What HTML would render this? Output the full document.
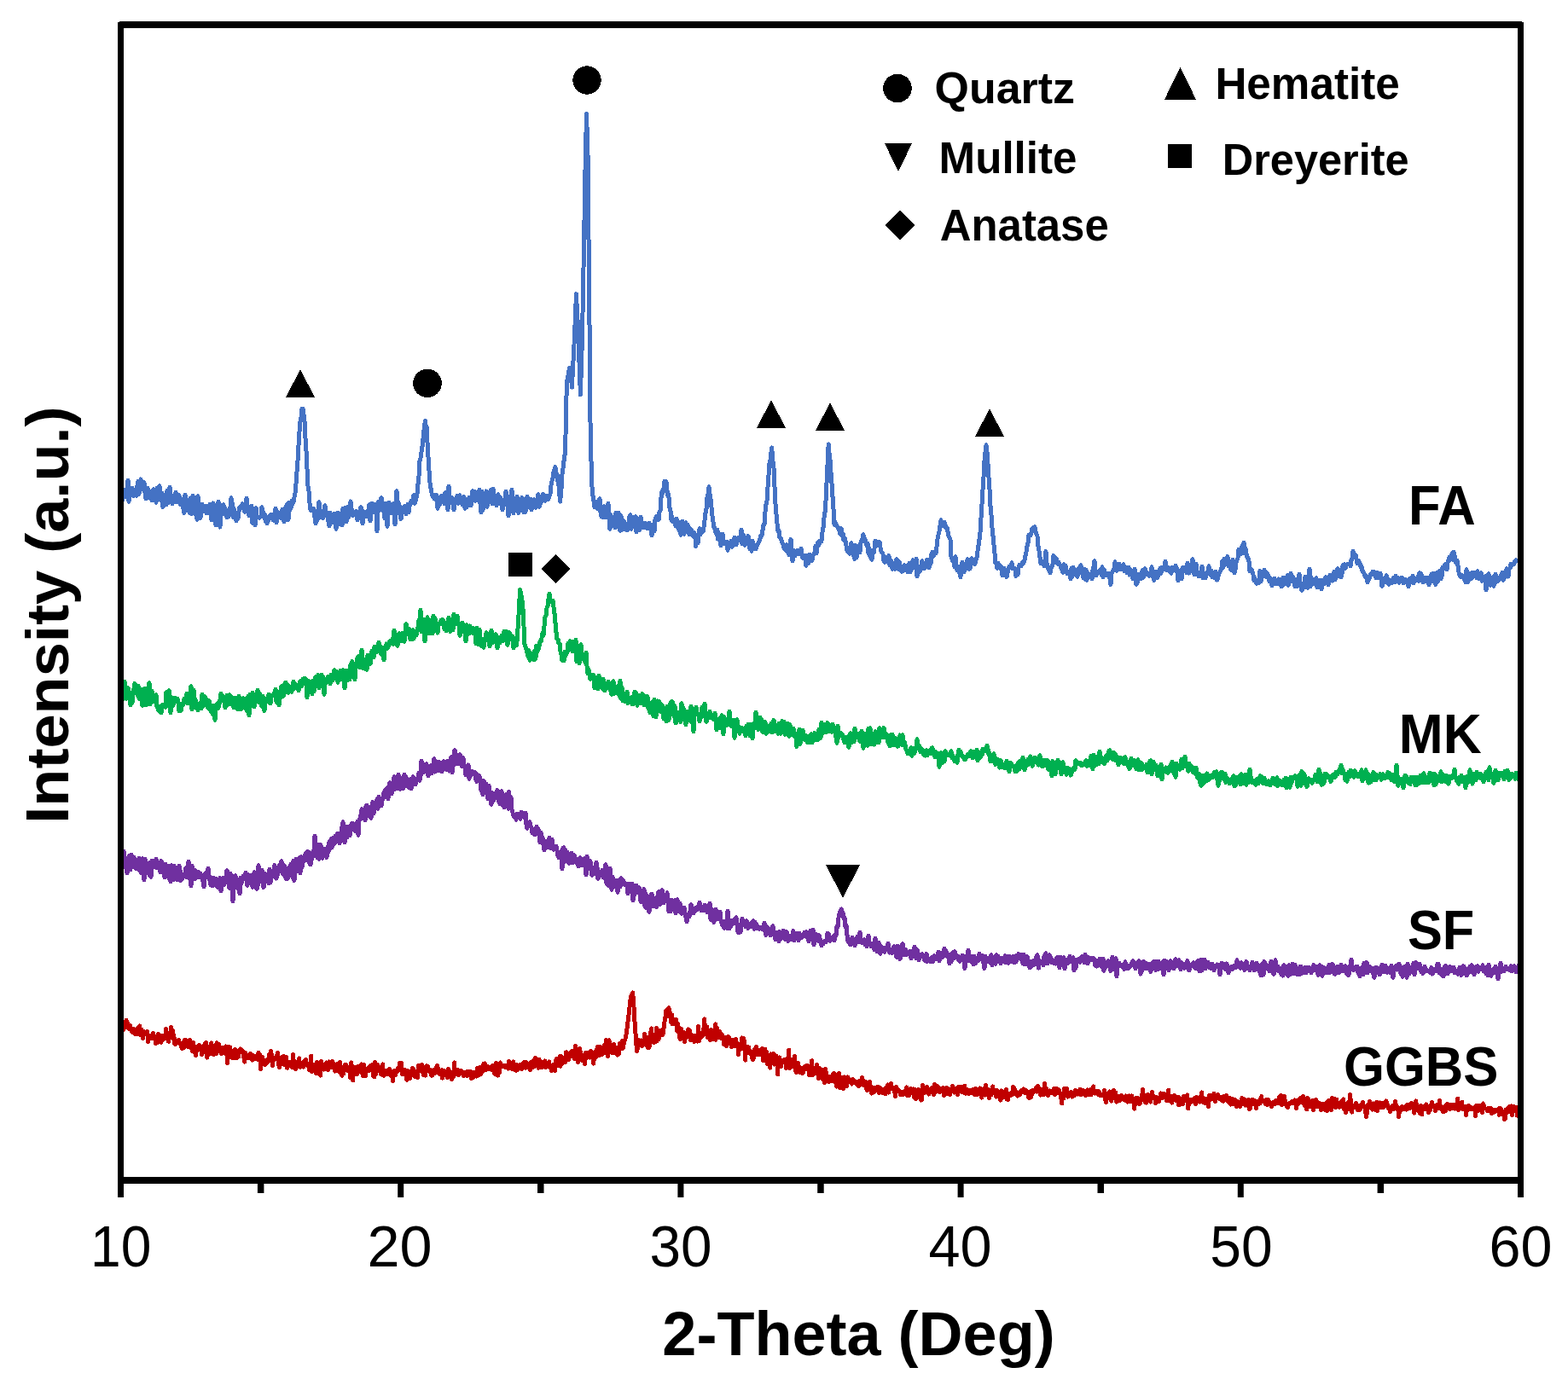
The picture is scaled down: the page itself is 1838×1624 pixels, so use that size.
<!DOCTYPE html>
<html><head><meta charset="utf-8"><title>XRD patterns</title>
<style>html,body{margin:0;padding:0;background:#fff;width:1838px;height:1624px;overflow:hidden}svg{display:block}</style>
</head><body>
<svg width="1838" height="1624" viewBox="0 0 1838 1624">
<rect width="1838" height="1624" fill="#fff"/>
<g fill="none" stroke-width="5" stroke-linejoin="round" stroke-linecap="butt" shape-rendering="crispEdges">
<path stroke="#4472C4" d="M141.0 580.3L142.0 589.9L143.0 588.5L144.0 575.1L145.0 576.3L146.0 574.2L147.0 582.2L148.0 577.1L149.0 582.8L150.0 562.9L151.0 588.2L152.0 575.3L153.0 580.8L154.0 574.3L155.0 572.1L156.0 578.7L157.0 581.5L158.0 574.0L159.0 574.5L160.0 581.2L161.0 569.3L162.0 564.5L163.0 579.4L164.0 571.4L165.0 561.9L166.0 570.6L167.0 573.5L168.0 568.0L169.0 565.9L170.0 577.9L171.0 584.7L172.0 576.2L173.0 572.4L174.0 581.2L175.0 583.8L176.0 576.4L177.0 582.9L178.0 586.8L179.0 577.9L180.0 573.8L181.0 582.8L182.0 582.4L183.0 589.2L184.0 571.9L185.0 576.9L186.0 576.0L187.0 569.7L188.0 583.9L189.0 587.3L190.0 578.3L191.0 594.5L192.0 590.7L193.0 589.6L194.0 587.9L195.0 592.0L196.0 575.0L197.0 589.5L198.0 589.4L199.0 570.9L200.0 587.3L201.0 582.6L202.0 590.6L203.0 581.0L204.0 584.2L205.0 587.0L206.0 577.4L207.0 588.5L208.0 583.5L209.0 587.4L210.0 580.6L211.0 591.2L212.0 589.1L213.0 585.1L214.0 591.6L215.0 596.8L216.0 601.5L217.0 580.3L218.0 597.7L219.0 596.1L220.0 592.4L221.0 586.3L222.0 601.3L223.0 584.0L224.0 597.3L225.0 602.5L226.0 581.3L227.0 590.8L228.0 583.4L229.0 595.2L230.0 604.9L231.0 609.1L232.0 581.7L233.0 590.9L234.0 600.7L235.0 607.5L236.0 599.4L237.0 591.3L238.0 599.4L239.0 597.5L240.0 596.6L241.0 593.1L242.0 601.7L243.0 601.6L244.0 599.1L245.0 598.5L246.0 591.2L247.0 597.5L248.0 609.6L249.0 599.2L250.0 589.9L251.0 610.3L252.0 604.0L253.0 615.7L254.0 600.1L255.0 595.9L256.0 588.3L257.0 609.0L258.0 618.1L259.0 592.4L260.0 593.5L261.0 602.7L262.0 591.8L263.0 596.2L264.0 595.8L265.0 600.0L266.0 607.0L267.0 599.2L268.0 606.1L269.0 596.2L270.0 602.1L271.0 583.8L272.0 589.1L273.0 606.2L274.0 596.0L275.0 604.9L276.0 604.8L277.0 610.8L278.0 606.7L279.0 608.0L280.0 599.4L281.0 594.8L282.0 594.3L283.0 595.8L284.0 590.8L285.0 594.8L286.0 597.9L287.0 600.2L288.0 595.6L289.0 584.2L290.0 597.0L291.0 598.9L292.0 604.7L293.0 601.6L294.0 593.6L295.0 593.5L296.0 613.4L297.0 605.1L298.0 613.2L299.0 615.9L300.0 595.6L301.0 604.7L302.0 605.7L303.0 607.0L304.0 607.4L305.0 605.6L306.0 605.9L307.0 594.7L308.0 604.6L309.0 601.1L310.0 607.8L311.0 604.2L312.0 612.3L313.0 613.6L314.0 609.8L315.0 609.7L316.0 608.0L317.0 603.8L318.0 605.8L319.0 603.1L320.0 609.6L321.0 606.6L322.0 610.7L323.0 596.3L324.0 612.6L325.0 600.2L326.0 600.5L327.0 604.2L328.0 601.5L329.0 607.1L330.0 601.1L331.0 597.0L332.0 597.8L333.0 611.6L334.0 602.3L335.0 594.4L336.0 600.5L337.0 590.6L338.0 609.5L339.0 589.4L340.0 597.6L341.0 596.1L342.0 587.2L343.0 590.7L344.0 588.4L345.0 583.0L346.0 578.5L347.0 567.2L348.0 553.0L349.0 540.7L350.0 522.3L351.0 506.2L352.0 494.4L353.0 488.9L353.5 482.0L354.0 479.4L355.0 479.2L356.0 486.6L356.5 487.7L357.0 493.9L358.0 513.6L359.0 529.2L360.0 549.8L361.0 570.2L362.0 576.0L363.0 590.3L364.0 598.2L365.0 598.7L366.0 596.3L367.0 596.4L368.0 597.2L369.0 607.2L370.0 613.6L371.0 601.6L372.0 609.9L373.0 600.3L374.0 588.6L375.0 603.8L376.0 606.2L377.0 600.0L378.0 605.4L379.0 607.5L380.0 597.2L381.0 592.8L382.0 602.2L383.0 602.4L384.0 601.4L385.0 611.4L386.0 617.0L387.0 601.4L388.0 609.7L389.0 611.6L390.0 610.1L391.0 612.7L392.0 602.2L393.0 610.7L394.0 620.2L395.0 611.4L396.0 601.2L397.0 610.0L398.0 614.8L399.0 608.6L400.0 601.6L401.0 616.0L402.0 596.0L403.0 607.9L404.0 603.9L405.0 595.2L406.0 611.8L407.0 605.2L408.0 594.2L409.0 606.2L410.0 598.6L411.0 587.9L412.0 596.0L413.0 602.2L414.0 604.4L415.0 601.4L416.0 600.8L417.0 604.0L418.0 599.5L419.0 609.7L420.0 602.6L421.0 603.8L422.0 605.9L423.0 594.7L424.0 597.4L425.0 613.6L426.0 605.4L427.0 601.3L428.0 605.8L429.0 600.5L430.0 605.9L431.0 599.0L432.0 604.9L433.0 591.7L434.0 611.1L435.0 598.0L436.0 590.2L437.0 599.0L438.0 597.5L439.0 600.5L440.0 591.2L441.0 601.2L442.0 622.6L443.0 588.8L444.0 599.3L445.0 594.4L446.0 597.3L447.0 583.7L448.0 588.2L449.0 599.1L450.0 595.7L451.0 608.0L452.0 590.8L453.0 597.3L454.0 617.3L455.0 590.4L456.0 589.4L457.0 595.7L458.0 595.7L459.0 602.0L460.0 596.9L461.0 590.6L462.0 597.4L463.0 614.6L464.0 604.7L465.0 575.6L466.0 594.3L467.0 589.0L468.0 599.5L469.0 593.7L470.0 608.5L471.0 601.3L472.0 600.8L473.0 595.7L474.0 594.0L475.0 596.5L476.0 602.9L477.0 597.3L478.0 591.1L479.0 600.7L480.0 593.8L481.0 591.9L482.0 587.2L483.0 587.4L484.0 587.2L485.0 580.6L486.0 590.2L487.0 587.8L488.0 584.4L489.0 578.6L490.0 567.6L491.0 558.0L492.0 540.6L493.0 537.4L494.0 530.0L495.0 523.5L496.0 514.6L497.0 503.9L498.0 495.9L498.5 493.1L499.0 499.0L500.0 500.0L501.0 519.0L501.5 525.8L502.0 535.9L503.0 551.9L503.5 564.8L504.0 565.9L505.0 572.6L506.0 578.1L506.5 579.7L507.0 581.6L508.0 581.1L509.0 584.9L510.0 585.2L511.0 580.2L512.0 580.7L513.0 596.2L514.0 585.4L515.0 592.3L516.0 588.6L517.0 582.6L518.0 581.3L519.0 587.2L520.0 588.2L521.0 590.8L522.0 577.6L523.0 582.4L524.0 586.0L525.0 597.9L526.0 570.2L527.0 589.9L528.0 583.1L529.0 590.0L530.0 583.6L531.0 589.5L532.0 597.8L533.0 589.3L534.0 589.8L535.0 589.3L536.0 581.4L537.0 590.4L538.0 585.1L539.0 580.8L540.0 586.2L541.0 584.8L542.0 591.6L543.0 586.0L544.0 582.5L545.0 596.3L546.0 593.0L547.0 594.9L548.0 590.2L549.0 585.2L550.0 583.1L551.0 584.1L552.0 592.6L553.0 586.8L554.0 575.6L555.0 585.7L556.0 576.1L557.0 587.2L558.0 577.6L559.0 577.2L560.0 586.8L561.0 585.5L562.0 574.4L563.0 591.2L564.0 600.9L565.0 575.9L566.0 598.3L567.0 581.3L568.0 582.7L569.0 584.6L570.0 575.9L571.0 594.4L572.0 588.8L573.0 580.2L574.0 583.3L575.0 574.8L576.0 582.5L577.0 591.0L578.0 573.0L579.0 581.6L580.0 585.2L581.0 590.9L582.0 592.8L583.0 581.4L584.0 580.0L585.0 588.0L586.0 583.1L587.0 583.9L588.0 593.2L589.0 597.6L590.0 588.7L591.0 586.1L592.0 591.4L593.0 575.9L594.0 588.4L595.0 582.0L596.0 604.6L597.0 594.3L598.0 590.9L599.0 589.0L600.0 574.3L601.0 595.3L602.0 601.6L603.0 586.5L604.0 596.0L605.0 596.5L606.0 581.9L607.0 598.4L608.0 601.4L609.0 594.2L610.0 592.6L611.0 598.4L612.0 583.5L613.0 594.4L614.0 600.9L615.0 586.7L616.0 600.5L617.0 592.2L618.0 582.4L619.0 593.7L620.0 587.7L621.0 594.8L622.0 585.1L623.0 597.9L624.0 586.3L625.0 592.3L626.0 585.8L627.0 586.8L628.0 595.2L629.0 589.0L630.0 585.1L631.0 579.7L632.0 594.2L633.0 591.5L634.0 584.4L635.0 587.8L636.0 579.7L637.0 579.9L638.0 580.8L639.0 587.3L640.0 586.3L641.0 581.4L642.0 585.6L643.0 584.7L644.0 581.6L645.0 579.1L646.0 569.0L647.0 564.1L648.0 560.6L649.0 553.4L650.0 550.4L651.0 547.6L652.0 559.0L653.0 555.7L654.0 564.9L655.0 569.4L656.0 581.3L656.7 588.0L657.0 584.2L658.0 572.7L659.0 556.1L659.7 551.3L660.0 549.2L661.0 540.6L662.0 533.6L662.7 527.1L663.0 510.3L663.6 477.3L664.0 464.8L664.6 447.4L665.0 445.0L666.0 440.0L667.0 434.0L667.6 431.1L668.0 435.0L669.0 439.5L670.0 449.1L670.5 454.2L671.0 442.2L672.0 423.3L672.5 415.4L673.0 404.0L674.0 381.0L675.0 356.6L675.5 344.7L676.0 356.3L677.0 374.5L677.4 383.4L678.0 400.4L679.0 425.3L680.0 451.8L680.4 463.0L681.0 443.9L682.0 411.3L682.4 398.1L683.0 367.4L684.0 314.5L684.3 299.5L685.0 258.9L686.0 199.5L687.0 155.5L687.5 133.6L688.0 149.0L689.0 179.9L690.2 299.6L691.2 398.1L692.2 517.6L693.0 540.5L694.2 576.4L695.0 581.5L696.0 587.6L697.0 594.7L698.0 592.2L699.0 595.3L700.0 588.5L701.0 596.8L702.0 595.7L703.0 584.6L704.0 600.4L705.0 606.0L706.0 596.2L707.0 606.9L708.0 593.7L709.0 604.5L710.0 595.7L711.0 607.1L712.0 594.7L713.0 590.4L714.0 608.7L715.0 620.3L716.0 603.8L717.0 612.4L718.0 608.5L719.0 606.2L720.0 612.1L721.0 618.7L722.0 601.4L723.0 612.6L724.0 611.6L725.0 601.1L726.0 619.8L727.0 622.2L728.0 604.8L729.0 621.5L730.0 611.5L731.0 610.5L732.0 620.9L733.0 613.5L734.0 614.4L735.0 621.9L736.0 620.8L737.0 618.5L738.0 604.7L739.0 603.8L740.0 620.2L741.0 607.6L742.0 614.4L743.0 606.8L744.0 612.5L745.0 605.9L746.0 623.6L747.0 607.7L748.0 613.2L749.0 612.9L750.0 621.5L751.0 606.1L752.0 614.7L753.0 614.0L754.0 618.7L755.0 618.6L756.0 613.3L757.0 617.8L758.0 614.5L759.0 619.8L760.0 616.4L761.0 613.1L762.0 616.8L763.0 619.2L764.0 627.9L765.0 615.1L766.0 618.2L767.0 622.7L768.0 608.9L769.0 606.7L770.0 605.3L771.0 606.0L772.0 609.5L773.0 600.4L774.0 599.1L774.5 593.4L775.0 583.5L776.0 576.3L777.0 577.8L778.0 571.9L779.0 564.3L779.8 568.0L781.0 564.9L782.0 574.9L783.0 582.0L783.6 580.0L784.0 582.5L785.0 595.8L786.0 599.2L786.6 609.2L787.0 604.6L788.0 611.3L789.0 611.1L790.0 611.0L791.0 609.8L792.0 616.9L793.0 608.3L794.0 617.7L795.0 616.9L796.0 621.7L797.0 612.2L798.0 627.3L799.0 616.0L800.0 611.0L801.0 625.1L802.0 626.4L803.0 616.3L804.0 612.7L805.0 618.3L806.0 615.0L807.0 617.5L808.0 626.9L809.0 621.7L809.5 620.7L810.0 622.4L811.0 621.9L812.0 627.8L813.0 629.4L814.0 624.9L815.0 628.6L815.6 640.6L816.0 630.7L817.0 627.0L818.0 637.0L819.0 626.4L820.0 619.8L821.0 626.8L822.0 621.8L823.0 622.1L824.0 623.3L824.7 621.7L825.0 617.7L826.0 609.8L827.0 601.3L828.0 596.8L828.5 588.4L829.0 583.7L830.0 579.3L831.0 570.8L831.3 574.1L832.0 579.5L833.0 584.7L833.9 594.0L835.0 605.0L836.0 612.0L837.0 619.0L838.0 619.2L839.0 624.4L840.0 626.9L841.0 621.4L841.5 632.3L842.0 627.5L843.0 625.8L844.0 628.4L845.0 639.9L846.0 637.5L847.0 626.0L848.0 636.3L849.0 636.8L850.0 638.1L851.0 638.1L852.0 635.2L853.0 645.2L854.0 636.1L855.0 637.9L856.0 635.8L857.0 634.4L858.0 641.2L859.0 638.5L860.0 632.3L861.0 630.1L862.0 632.0L863.0 638.8L864.0 634.0L865.0 634.0L866.0 630.5L867.0 630.4L868.0 632.2L869.0 621.3L870.0 638.1L871.0 627.0L872.0 629.0L873.0 639.4L874.0 634.7L875.0 634.7L876.0 632.5L877.0 628.5L878.0 638.1L879.0 644.0L880.0 634.5L881.0 646.2L882.0 634.3L883.0 636.7L884.0 643.4L885.0 641.2L886.0 644.0L887.0 639.6L888.0 639.0L889.0 636.6L890.0 634.9L891.0 631.9L892.0 627.7L893.0 627.9L894.0 621.6L894.8 615.3L896.0 615.1L897.0 600.4L898.0 591.5L899.0 587.4L899.4 583.9L900.0 571.5L901.0 556.8L902.0 543.3L903.0 539.8L904.0 530.4L904.7 525.0L905.0 529.1L906.0 541.0L907.0 548.3L908.0 570.9L908.5 580.3L909.0 590.8L910.0 602.6L911.0 613.8L911.6 619.8L912.0 622.8L913.0 621.9L914.0 630.3L915.0 630.6L916.0 633.6L917.0 636.5L918.0 638.6L919.0 642.5L920.0 644.2L921.0 643.6L922.0 638.7L923.0 647.4L924.0 644.4L925.0 651.0L926.0 641.1L927.0 632.5L928.0 643.7L929.0 657.7L930.0 649.1L931.0 645.8L932.0 651.8L933.0 650.0L934.0 650.1L935.0 645.2L936.0 648.6L937.0 649.5L938.0 645.4L939.0 643.1L940.0 649.8L941.0 654.2L942.0 652.6L943.0 651.9L944.0 652.1L945.0 663.3L946.0 650.9L947.0 655.2L948.0 660.1L949.0 650.0L950.0 650.9L951.0 654.4L952.0 657.2L953.0 651.4L954.0 650.0L955.0 647.4L956.0 640.3L957.0 648.7L958.0 641.3L959.0 635.7L960.0 639.1L961.0 634.0L962.0 634.1L962.9 635.0L964.0 624.2L965.0 618.6L966.0 607.0L967.0 600.7L967.4 597.7L968.0 586.8L969.0 566.1L969.5 555.3L970.0 545.1L971.2 520.9L972.0 530.9L973.0 539.2L974.0 554.2L975.0 566.9L976.0 582.4L977.0 596.6L978.0 615.2L979.0 612.4L980.0 615.1L981.0 616.4L982.0 618.7L983.0 620.4L984.0 621.6L985.0 626.2L986.0 619.5L987.0 627.6L988.0 625.5L989.0 633.4L990.0 630.7L991.0 634.0L992.0 639.8L993.0 646.1L994.0 644.0L995.0 643.8L996.0 649.3L997.0 640.2L998.0 636.7L999.0 644.5L1000.0 646.0L1001.0 653.2L1002.0 655.5L1003.0 639.5L1004.0 653.9L1005.0 648.6L1006.0 644.0L1007.0 640.6L1008.0 647.6L1009.0 636.4L1010.0 632.9L1011.0 633.5L1012.0 626.7L1013.0 631.7L1014.0 632.4L1015.0 636.8L1016.0 639.7L1017.0 637.4L1018.0 648.6L1019.0 643.3L1020.0 652.5L1021.0 647.0L1022.0 656.3L1023.0 649.0L1024.0 648.5L1025.0 642.9L1026.0 634.4L1027.0 634.7L1028.0 635.3L1029.0 639.6L1030.0 635.2L1031.0 635.5L1032.0 641.9L1033.0 646.8L1034.0 647.7L1035.0 649.6L1036.0 658.2L1037.0 659.1L1038.0 658.9L1039.0 653.3L1040.0 657.6L1041.0 656.9L1042.0 651.6L1043.0 663.1L1044.0 659.9L1045.0 657.7L1046.0 667.2L1047.0 664.7L1048.0 665.3L1049.0 667.2L1050.0 665.1L1051.0 655.7L1052.0 660.1L1053.0 667.3L1054.0 658.6L1055.0 662.9L1056.0 664.9L1057.0 670.3L1058.0 669.8L1059.0 668.0L1060.0 662.7L1061.0 668.4L1062.0 666.7L1063.0 663.3L1064.0 671.0L1065.0 666.7L1066.0 660.5L1067.0 670.8L1068.0 663.2L1069.0 667.6L1070.0 656.8L1071.0 664.6L1072.0 659.9L1073.0 659.8L1074.0 655.3L1075.0 675.6L1076.0 664.2L1077.0 666.2L1078.0 670.4L1079.0 664.1L1080.0 667.1L1081.0 657.6L1082.0 665.2L1083.0 662.0L1084.0 666.4L1085.0 664.5L1086.0 658.1L1087.0 656.1L1088.0 659.2L1089.0 665.9L1090.0 662.8L1091.0 660.9L1092.0 649.5L1093.0 647.3L1094.0 652.1L1095.0 650.9L1096.0 648.4L1097.0 648.9L1098.0 641.3L1099.0 632.4L1100.0 626.8L1101.0 623.0L1102.0 616.5L1103.0 609.8L1104.0 617.0L1105.0 612.0L1106.0 614.3L1107.0 612.3L1108.0 615.7L1109.0 619.2L1110.0 620.6L1110.6 619.6L1111.0 623.5L1112.0 628.9L1113.0 630.2L1114.0 633.0L1115.0 653.2L1116.0 655.7L1116.7 657.9L1117.0 654.1L1118.0 656.6L1119.0 664.5L1120.0 652.8L1121.0 662.5L1122.0 668.9L1123.0 667.2L1124.0 671.1L1125.0 666.8L1126.0 676.6L1127.0 661.7L1128.0 659.1L1129.0 665.9L1130.0 670.6L1131.0 663.1L1132.0 667.5L1133.0 659.6L1134.0 655.9L1135.0 667.1L1136.0 667.2L1137.0 667.0L1138.0 658.0L1139.0 654.7L1140.0 656.2L1141.0 659.5L1142.0 661.4L1143.0 661.2L1144.0 656.6L1145.0 653.5L1146.0 646.4L1147.0 639.7L1148.0 632.7L1148.7 627.7L1149.0 624.0L1150.0 607.3L1151.0 591.4L1152.0 574.1L1152.5 567.5L1153.0 558.8L1154.0 540.1L1154.5 535.7L1155.0 529.8L1156.0 521.7L1157.0 530.0L1157.5 534.9L1158.0 543.7L1159.0 560.2L1159.4 566.4L1160.0 573.6L1161.0 593.5L1162.0 603.9L1162.4 611.5L1163.0 618.9L1164.0 628.6L1165.0 638.8L1166.0 649.2L1167.0 660.4L1168.0 659.9L1169.0 666.2L1170.0 660.1L1171.0 663.9L1172.0 663.2L1173.0 663.7L1174.0 668.5L1175.0 674.7L1176.0 667.1L1177.0 666.4L1178.0 671.8L1179.0 670.4L1180.0 676.5L1181.0 671.6L1182.0 667.3L1183.0 664.1L1184.0 666.0L1185.0 664.8L1186.0 659.9L1187.0 666.7L1188.0 666.4L1189.0 666.7L1190.0 666.7L1191.0 675.5L1192.0 672.2L1193.0 673.7L1194.0 665.9L1195.0 662.5L1196.0 663.6L1197.0 663.8L1198.0 660.1L1199.0 658.9L1200.0 660.0L1201.0 656.5L1202.0 651.5L1203.0 646.9L1204.0 640.3L1205.0 636.5L1206.0 627.1L1207.0 627.6L1208.0 627.9L1209.0 624.3L1210.0 619.8L1211.0 618.7L1212.0 618.8L1213.0 617.7L1214.0 623.5L1215.0 626.4L1216.0 628.9L1216.8 639.2L1218.0 645.7L1219.0 653.4L1220.0 660.7L1221.0 657.9L1222.0 659.7L1223.0 661.2L1224.0 664.0L1225.0 661.3L1226.0 646.5L1227.0 660.4L1228.0 663.1L1229.0 667.4L1230.0 665.1L1231.0 671.7L1232.0 666.1L1233.0 664.8L1234.0 661.8L1235.0 651.5L1236.0 659.4L1237.0 657.4L1238.0 654.5L1239.0 660.4L1240.0 661.3L1241.0 659.4L1242.0 662.3L1243.0 663.3L1244.0 666.8L1245.0 665.8L1246.0 671.2L1247.0 661.6L1248.0 668.4L1249.0 663.1L1250.0 668.0L1251.0 672.8L1252.0 670.7L1253.0 670.3L1254.0 671.5L1255.0 678.9L1256.0 666.4L1257.0 676.2L1258.0 665.0L1259.0 670.2L1260.0 673.5L1261.0 668.9L1262.0 673.8L1263.0 676.2L1264.0 666.8L1265.0 672.0L1266.0 670.3L1267.0 662.6L1268.0 670.9L1269.0 667.8L1270.0 678.0L1271.0 667.1L1272.0 679.4L1273.0 668.4L1274.0 680.2L1275.0 673.3L1276.0 672.7L1277.0 674.2L1278.0 674.5L1279.0 676.8L1280.0 678.6L1281.0 668.7L1282.0 664.4L1283.0 657.7L1284.0 669.0L1285.0 674.7L1286.0 673.0L1287.0 671.9L1288.0 669.9L1289.0 668.8L1290.0 670.6L1291.0 673.7L1292.0 664.8L1293.0 676.6L1294.0 667.5L1295.0 674.0L1296.0 672.5L1297.0 674.5L1298.0 672.4L1299.0 672.6L1300.0 677.0L1301.0 672.3L1302.0 685.5L1303.0 672.4L1304.0 670.2L1305.0 669.3L1306.0 665.9L1307.0 658.9L1308.0 667.5L1309.0 669.4L1310.0 661.6L1311.0 667.4L1312.0 661.3L1313.0 666.4L1314.0 667.7L1315.0 667.9L1316.0 667.2L1317.0 661.9L1318.0 669.7L1319.0 664.9L1320.0 669.2L1321.0 671.7L1322.0 668.3L1323.0 665.0L1324.0 674.1L1325.0 667.6L1326.0 669.4L1327.0 669.5L1328.0 678.7L1329.0 675.3L1330.0 667.3L1331.0 679.8L1332.0 685.2L1333.0 683.7L1334.0 673.0L1335.0 675.7L1336.0 677.3L1337.0 678.8L1338.0 674.5L1339.0 668.8L1340.0 677.2L1341.0 676.2L1342.0 666.7L1343.0 670.9L1344.0 673.5L1345.0 671.9L1346.0 674.3L1347.0 675.4L1348.0 674.1L1349.0 670.9L1350.0 664.8L1351.0 674.1L1352.0 677.8L1353.0 680.4L1354.0 670.6L1355.0 670.4L1356.0 677.3L1357.0 677.1L1358.0 671.8L1359.0 673.4L1360.0 666.4L1361.0 672.3L1362.0 665.4L1363.0 668.3L1364.0 668.0L1365.0 666.1L1366.0 658.1L1367.0 663.8L1368.0 668.8L1369.0 666.7L1370.0 665.5L1371.0 669.6L1372.0 671.2L1373.0 672.3L1374.0 665.0L1375.0 669.2L1376.0 667.9L1377.0 665.7L1378.0 663.2L1379.0 670.0L1380.0 667.0L1381.0 680.8L1382.0 671.1L1383.0 670.9L1384.0 669.5L1385.0 679.0L1386.0 665.8L1387.0 668.7L1388.0 665.3L1389.0 667.6L1390.0 667.3L1391.0 671.7L1392.0 659.9L1393.0 665.5L1394.0 672.1L1395.0 663.3L1396.0 665.3L1397.0 662.8L1398.0 655.6L1399.0 667.4L1400.0 673.7L1401.0 666.9L1402.0 661.4L1403.0 671.4L1404.0 671.1L1405.0 675.8L1406.0 676.0L1407.0 670.9L1408.0 674.0L1409.0 664.3L1410.0 677.6L1411.0 673.5L1412.0 677.9L1413.0 677.9L1414.0 671.6L1415.0 672.4L1416.0 669.1L1417.0 663.9L1418.0 672.9L1419.0 674.3L1420.0 669.0L1421.0 677.0L1422.0 675.0L1423.0 677.2L1424.0 673.2L1425.0 670.3L1426.0 680.0L1427.0 680.1L1428.0 675.3L1429.0 672.0L1430.0 670.4L1431.0 668.7L1432.0 665.1L1433.0 657.6L1434.0 665.3L1435.0 655.0L1436.0 657.0L1437.0 654.8L1438.0 658.1L1439.0 652.6L1440.0 663.8L1441.0 663.4L1442.0 665.1L1443.0 668.3L1444.0 661.9L1445.0 656.0L1446.0 667.8L1447.0 671.9L1448.0 667.9L1449.0 659.1L1450.0 656.9L1451.0 654.4L1452.0 644.5L1453.0 646.1L1454.0 644.4L1455.0 649.3L1456.0 640.5L1457.0 646.4L1457.5 640.0L1458.0 636.2L1459.0 648.9L1460.0 643.1L1461.0 649.3L1462.0 654.2L1463.0 654.3L1464.0 658.3L1465.0 669.6L1466.0 669.2L1467.0 667.9L1468.0 670.3L1469.0 673.8L1470.0 680.5L1471.0 678.0L1472.0 681.0L1473.0 684.3L1474.0 682.5L1475.0 683.7L1476.0 682.8L1477.0 669.5L1478.0 682.0L1479.0 677.5L1480.0 675.2L1481.0 670.6L1482.0 668.1L1483.0 670.8L1484.0 676.2L1485.0 671.8L1486.0 674.0L1487.0 675.5L1488.0 681.8L1489.0 678.2L1490.0 679.5L1491.0 686.6L1492.0 680.0L1493.0 684.7L1494.0 678.1L1495.0 684.8L1496.0 684.5L1497.0 684.6L1498.0 681.6L1499.0 679.0L1500.0 681.9L1501.0 681.0L1502.0 687.8L1503.0 687.1L1504.0 677.0L1505.0 685.4L1506.0 680.1L1507.0 684.3L1508.0 679.7L1509.0 674.9L1510.0 686.4L1511.0 683.6L1512.0 675.6L1513.0 672.3L1514.0 678.5L1515.0 675.5L1516.0 679.3L1517.0 683.9L1518.0 688.0L1519.0 679.3L1520.0 687.6L1521.0 686.6L1522.0 678.9L1523.0 673.0L1524.0 685.1L1525.0 683.9L1526.0 692.3L1527.0 687.9L1528.0 684.7L1529.0 689.0L1530.0 676.1L1531.0 681.9L1532.0 679.7L1533.0 689.3L1534.0 683.9L1535.0 666.9L1536.0 687.9L1537.0 677.3L1538.0 685.3L1539.0 679.5L1540.0 683.0L1541.0 684.9L1542.0 683.0L1543.0 677.7L1544.0 688.8L1545.0 684.2L1546.0 682.4L1547.0 685.9L1548.0 680.2L1549.0 690.9L1550.0 683.8L1551.0 684.6L1552.0 684.6L1553.0 678.5L1554.0 676.7L1555.0 682.1L1556.0 682.1L1557.0 685.8L1558.0 681.3L1559.0 674.0L1560.0 680.4L1561.0 681.0L1562.0 681.1L1563.0 677.6L1564.0 670.3L1565.0 679.9L1566.0 671.1L1567.0 676.0L1568.0 666.8L1569.0 675.4L1570.0 668.6L1571.0 675.4L1572.0 676.8L1573.0 673.3L1574.0 662.8L1575.0 662.5L1576.0 661.5L1577.0 666.4L1578.0 663.9L1579.0 661.9L1580.0 661.3L1581.0 661.4L1582.0 660.6L1583.0 663.7L1584.0 655.8L1585.0 655.9L1586.0 646.5L1587.0 649.5L1588.0 652.0L1589.0 650.5L1590.0 655.9L1591.0 660.6L1592.0 657.1L1593.0 658.7L1594.0 660.4L1595.0 664.5L1596.0 663.9L1597.0 669.3L1598.0 670.7L1599.0 672.7L1600.0 676.1L1601.0 675.3L1602.0 677.5L1603.0 683.0L1604.0 676.0L1605.0 678.6L1606.0 675.6L1607.0 672.9L1608.0 672.5L1609.0 670.5L1610.0 673.7L1611.0 670.7L1612.0 671.0L1613.0 677.6L1614.0 671.4L1615.0 677.5L1616.0 674.5L1617.0 677.8L1618.0 672.2L1619.0 676.1L1620.0 687.4L1621.0 680.4L1622.0 681.9L1623.0 679.3L1624.0 682.7L1625.0 674.8L1626.0 676.9L1627.0 683.0L1628.0 685.3L1629.0 680.8L1630.0 682.5L1631.0 682.4L1632.0 683.0L1633.0 678.6L1634.0 677.4L1635.0 682.9L1636.0 675.1L1637.0 678.4L1638.0 679.7L1639.0 677.7L1640.0 683.4L1641.0 680.1L1642.0 681.6L1643.0 677.2L1644.0 678.2L1645.0 683.8L1646.0 682.9L1647.0 679.0L1648.0 682.6L1649.0 681.7L1650.0 681.5L1651.0 688.0L1652.0 678.8L1653.0 682.5L1654.0 682.5L1655.0 679.4L1656.0 675.0L1657.0 683.6L1658.0 681.5L1659.0 680.5L1660.0 680.3L1661.0 680.2L1662.0 675.9L1663.0 681.3L1664.0 671.6L1665.0 679.8L1666.0 672.9L1667.0 678.1L1668.0 682.9L1669.0 678.3L1670.0 677.2L1671.0 681.7L1672.0 677.9L1673.0 677.2L1674.0 677.2L1675.0 685.8L1676.0 681.8L1677.0 680.9L1678.0 673.1L1679.0 681.3L1680.0 672.4L1681.0 680.5L1682.0 673.5L1683.0 685.5L1684.0 671.6L1685.0 682.5L1686.0 680.8L1687.0 669.6L1688.0 674.0L1689.0 678.7L1690.0 676.0L1691.0 665.0L1692.0 667.4L1693.0 663.8L1694.0 662.1L1695.0 661.3L1696.0 667.6L1697.0 659.6L1698.0 656.2L1699.0 653.6L1700.0 656.2L1701.0 655.3L1702.0 648.9L1703.0 656.4L1704.0 647.1L1705.0 651.5L1706.0 655.2L1707.0 660.3L1708.0 657.0L1709.0 663.6L1710.0 671.1L1711.0 674.4L1712.0 676.1L1713.0 676.4L1714.0 674.8L1715.0 676.6L1716.0 678.9L1717.0 675.3L1718.0 682.6L1719.0 667.8L1720.0 672.8L1721.0 682.3L1722.0 677.4L1723.0 672.3L1724.0 676.1L1725.0 678.6L1726.0 671.1L1727.0 676.0L1728.0 671.8L1729.0 671.3L1730.0 672.3L1731.0 678.0L1732.0 669.9L1733.0 673.8L1734.0 678.9L1735.0 672.2L1736.0 671.6L1737.0 681.2L1738.0 679.7L1739.0 679.1L1740.0 680.2L1741.0 675.7L1742.0 692.1L1743.0 674.9L1744.0 677.4L1745.0 672.8L1746.0 677.4L1747.0 686.2L1748.0 679.2L1749.0 681.8L1750.0 676.8L1751.0 687.3L1752.0 679.7L1753.0 673.4L1754.0 682.2L1755.0 677.2L1756.0 681.4L1757.0 679.0L1758.0 679.2L1759.0 678.3L1760.0 673.4L1761.0 671.1L1762.0 680.3L1763.0 675.9L1764.0 677.1L1765.0 674.1L1766.0 666.8L1767.0 668.0L1768.0 676.1L1769.0 666.6L1770.0 666.5L1771.0 661.0L1772.0 662.8L1773.0 662.3L1774.0 661.7L1775.0 661.1L1776.0 657.8L1777.0 656.8L1778.0 657.8L1779.0 658.0"/>
<path stroke="#00B050" d="M141.0 798.5L142.0 800.2L143.0 799.9L144.0 804.8L145.0 819.3L146.0 798.9L147.0 816.6L148.0 819.1L149.0 808.4L150.0 806.5L151.0 814.8L152.0 820.2L153.0 826.9L154.0 818.7L155.0 823.8L156.0 810.0L157.0 807.2L158.0 801.5L159.0 805.2L160.0 810.7L161.0 814.8L162.0 804.1L163.0 819.3L164.0 812.9L165.0 809.1L166.0 808.4L167.0 827.4L168.0 815.0L169.0 807.9L170.0 807.6L171.0 826.8L172.0 811.0L173.0 823.3L174.0 825.3L175.0 800.6L176.0 825.7L177.0 815.7L178.0 810.2L179.0 814.3L180.0 822.1L181.0 821.3L182.0 822.1L183.0 814.8L184.0 828.7L185.0 830.6L186.0 833.3L187.0 828.0L188.0 834.2L189.0 835.9L190.0 826.9L191.0 828.4L192.0 826.6L193.0 826.7L194.0 829.1L195.0 811.6L196.0 821.4L197.0 827.3L198.0 809.7L199.0 814.5L200.0 835.7L201.0 817.7L202.0 821.5L203.0 827.1L204.0 821.0L205.0 818.1L206.0 820.2L207.0 820.5L208.0 819.2L209.0 824.3L210.0 833.9L211.0 825.0L212.0 833.5L213.0 827.1L214.0 827.5L215.0 825.6L216.0 819.2L217.0 823.9L218.0 822.7L219.0 813.2L220.0 825.1L221.0 823.8L222.0 823.0L223.0 817.5L224.0 804.6L225.0 832.0L226.0 822.5L227.0 809.3L228.0 828.4L229.0 820.3L230.0 829.9L231.0 825.3L232.0 832.7L233.0 826.2L234.0 825.8L235.0 824.3L236.0 830.6L237.0 814.2L238.0 828.5L239.0 824.8L240.0 816.6L241.0 821.1L242.0 819.6L243.0 823.8L244.0 830.3L245.0 821.6L246.0 831.4L247.0 833.7L248.0 831.7L249.0 837.1L250.0 827.0L251.0 831.8L252.0 844.3L253.0 827.0L254.0 825.6L255.0 826.4L256.0 830.3L257.0 821.7L258.0 824.1L259.0 813.4L260.0 818.1L261.0 818.1L262.0 816.9L263.0 821.8L264.0 829.7L265.0 822.1L266.0 815.4L267.0 826.4L268.0 825.8L269.0 814.6L270.0 825.5L271.0 816.8L272.0 819.8L273.0 819.1L274.0 829.9L275.0 818.4L276.0 821.8L277.0 825.3L278.0 831.0L279.0 831.8L280.0 816.3L281.0 831.4L282.0 825.1L283.0 831.1L284.0 829.9L285.0 818.7L286.0 822.5L287.0 819.9L288.0 824.4L289.0 833.1L290.0 821.8L291.0 816.6L292.0 838.7L293.0 814.1L294.0 821.1L295.0 821.1L296.0 812.2L297.0 827.0L298.0 828.9L299.0 820.9L300.0 821.9L301.0 820.4L302.0 809.1L303.0 823.4L304.0 812.9L305.0 815.2L306.0 824.6L307.0 828.3L308.0 816.0L309.0 829.6L310.0 833.6L311.0 822.4L312.0 820.4L313.0 822.1L314.0 817.6L315.0 814.3L316.0 824.3L317.0 824.6L318.0 815.9L319.0 816.4L320.0 814.8L321.0 814.0L322.0 812.0L323.0 808.3L324.0 823.2L325.0 814.4L326.0 816.5L327.0 826.9L328.0 811.5L329.0 817.7L330.0 804.6L331.0 808.6L332.0 816.5L333.0 809.6L334.0 801.4L335.0 800.1L336.0 811.5L337.0 802.6L338.0 812.3L339.0 809.3L340.0 805.0L341.0 806.2L342.0 811.2L343.0 806.0L344.0 799.0L345.0 807.2L346.0 802.2L347.0 802.5L348.0 807.4L349.0 805.4L350.0 809.6L351.0 801.1L352.0 798.9L353.0 799.6L354.0 804.2L355.0 796.2L356.0 799.0L357.0 795.5L358.0 795.8L359.0 799.8L360.0 817.7L361.0 798.2L362.0 802.5L363.0 801.2L364.0 799.3L365.0 800.6L366.0 813.6L367.0 798.3L368.0 810.9L369.0 804.2L370.0 793.7L371.0 795.0L372.0 796.1L373.0 791.6L374.0 806.7L375.0 801.5L376.0 802.1L377.0 791.3L378.0 801.3L379.0 794.3L380.0 814.2L381.0 796.9L382.0 799.3L383.0 800.0L384.0 793.8L385.0 794.1L386.0 793.8L387.0 801.9L388.0 791.0L389.0 794.6L390.0 797.6L391.0 792.4L392.0 785.7L393.0 786.6L394.0 791.5L395.0 787.6L396.0 800.2L397.0 793.6L398.0 793.1L399.0 786.2L400.0 796.3L401.0 790.1L402.0 785.9L403.0 787.8L404.0 806.8L405.0 788.1L406.0 786.3L407.0 797.9L408.0 795.3L409.0 788.1L410.0 796.7L411.0 778.9L412.0 783.5L413.0 775.5L414.0 791.9L415.0 783.0L416.0 796.7L417.0 783.1L418.0 782.0L419.0 771.4L420.0 770.0L421.0 774.2L422.0 782.5L423.0 771.3L424.0 762.1L425.0 783.4L426.0 783.7L427.0 772.9L428.0 780.8L429.0 784.8L430.0 785.3L431.0 768.3L432.0 776.2L433.0 770.0L434.0 778.5L435.0 772.2L436.0 763.4L437.0 769.4L438.0 770.8L439.0 758.3L440.0 759.2L441.0 762.7L442.0 764.4L443.0 762.1L444.0 753.3L445.0 755.7L446.0 764.9L447.0 767.2L448.0 759.5L449.0 765.3L450.0 773.8L451.0 760.5L452.0 757.8L453.0 755.0L454.0 760.5L455.0 757.8L456.0 756.6L457.0 751.7L458.0 754.9L459.0 753.6L460.0 749.1L461.0 755.2L462.0 739.0L463.0 751.4L464.0 745.9L465.0 751.0L466.0 757.4L467.0 745.0L468.0 742.8L469.0 743.3L470.0 751.5L471.0 751.9L472.0 742.5L473.0 744.9L474.0 752.3L475.0 744.4L476.0 731.6L477.0 735.7L478.0 738.0L479.0 744.2L480.0 737.6L481.0 749.9L482.0 739.3L483.0 749.8L484.0 738.6L485.0 748.8L486.0 740.6L487.0 744.5L488.0 744.8L489.0 741.4L490.0 735.4L491.0 726.8L492.0 726.9L493.0 715.4L494.0 741.0L495.0 740.8L496.0 739.7L497.0 725.9L498.0 752.1L499.0 729.9L500.0 740.2L501.0 723.8L502.0 730.5L503.0 743.1L504.0 742.0L505.0 727.2L506.0 734.3L507.0 742.9L508.0 722.1L509.0 740.5L510.0 724.6L511.0 739.5L512.0 733.5L513.0 742.1L514.0 731.5L515.0 732.3L516.0 732.0L517.0 727.6L518.0 731.9L519.0 726.6L520.0 729.4L521.0 737.6L522.0 730.4L523.0 739.7L524.0 736.9L525.0 737.3L526.0 724.0L527.0 734.0L528.0 740.5L529.0 736.5L530.0 738.1L531.0 738.7L532.0 719.9L533.0 732.0L534.0 731.4L535.0 727.9L536.0 722.3L537.0 732.2L538.0 731.4L539.0 745.3L540.0 742.5L541.0 733.2L542.0 730.4L543.0 732.7L544.0 738.6L545.0 735.6L546.0 752.0L547.0 732.8L548.0 739.5L549.0 741.0L550.0 743.0L551.0 733.9L552.0 738.7L553.0 741.2L554.0 742.1L555.0 736.5L556.0 739.1L557.0 743.3L558.0 754.8L559.0 736.3L560.0 749.0L561.0 755.5L562.0 737.9L563.0 756.5L564.0 757.2L565.0 749.8L566.0 756.3L567.0 759.2L568.0 748.7L569.0 750.7L570.0 741.8L571.0 744.0L572.0 748.8L573.0 747.3L574.0 758.1L575.0 745.8L576.0 739.0L577.0 752.3L578.0 753.1L579.0 750.3L580.0 747.4L581.0 743.7L582.0 745.2L583.0 759.9L584.0 755.7L585.0 751.4L586.0 753.6L587.0 748.8L588.0 745.0L589.0 748.1L590.0 751.2L591.0 740.3L592.0 741.8L593.0 740.1L594.0 749.0L595.0 756.3L596.0 743.2L596.5 744.6L597.0 741.5L598.0 749.5L599.0 744.9L600.0 746.4L601.0 746.1L602.0 760.0L603.0 753.9L604.0 753.0L605.0 753.9L605.7 756.4L606.0 752.4L607.0 737.4L607.5 726.8L608.0 721.6L609.0 701.8L609.5 691.3L610.0 693.3L611.0 697.6L611.5 701.6L612.0 704.1L613.0 714.7L613.3 715.4L614.0 734.2L614.8 755.4L616.0 758.4L617.0 761.1L618.0 765.3L619.0 769.9L619.4 764.6L620.0 762.9L621.0 774.2L622.0 766.4L623.0 769.6L624.0 769.1L625.0 773.2L626.0 763.8L627.0 773.5L628.0 771.8L628.5 757.6L629.0 765.8L630.0 761.8L631.0 762.2L632.0 757.4L633.0 751.9L634.0 750.5L634.6 751.3L635.0 748.1L636.0 742.1L637.0 745.6L638.0 734.1L639.0 722.9L640.0 722.1L640.7 719.2L641.0 712.7L642.0 711.1L643.0 701.9L644.0 696.2L645.0 704.7L645.6 705.3L646.0 705.5L647.0 704.4L648.0 704.4L649.0 712.2L649.8 717.1L651.0 730.4L652.0 741.5L652.9 749.1L654.0 749.5L655.0 754.4L656.0 754.5L657.0 764.1L658.0 768.0L659.0 774.3L660.0 770.7L661.0 774.9L662.0 764.5L663.0 768.9L664.0 765.0L665.0 764.7L666.0 754.2L667.0 760.3L668.0 751.8L669.0 761.9L670.0 759.1L671.0 763.8L672.0 751.9L673.0 760.7L674.0 762.9L675.0 750.4L676.0 775.5L677.0 768.9L678.0 762.3L679.0 778.0L680.0 775.5L681.0 755.6L682.0 768.9L683.0 768.5L684.0 773.4L684.5 768.8L685.0 773.3L686.0 777.0L687.0 765.3L688.0 781.0L689.0 789.7L690.0 784.9L691.0 792.2L692.0 796.4L693.0 791.5L694.0 793.9L695.0 795.0L696.0 791.6L697.0 806.9L698.0 798.4L699.0 800.3L700.0 803.6L701.0 807.8L702.0 791.9L703.0 794.9L704.0 802.8L705.0 806.1L706.0 796.8L707.0 796.2L708.0 809.4L709.0 809.5L710.0 803.9L711.0 804.2L712.0 802.4L713.0 799.3L714.0 801.6L715.0 808.7L716.0 806.9L717.0 814.4L718.0 800.8L719.0 798.9L720.0 813.2L721.0 804.7L722.0 809.2L723.0 812.1L724.0 805.0L725.0 804.0L726.0 815.8L727.0 798.3L728.0 819.4L729.0 805.6L730.0 822.1L731.0 819.8L732.0 820.1L733.0 822.4L734.0 820.3L735.0 811.1L736.0 824.5L737.0 820.3L738.0 822.6L739.0 818.5L740.0 817.7L741.0 825.8L742.0 825.9L743.0 821.0L744.0 811.2L745.0 813.1L746.0 812.6L747.0 827.2L748.0 823.0L749.0 820.1L750.0 818.8L751.0 815.3L752.0 824.7L753.0 813.5L754.0 815.5L755.0 826.5L756.0 826.0L757.0 822.6L758.0 816.1L759.0 816.9L760.0 830.5L761.0 828.4L762.0 835.9L763.0 824.9L764.0 828.0L765.0 823.6L766.0 840.0L767.0 820.2L768.0 834.3L769.0 840.6L770.0 825.2L771.0 822.0L772.0 825.0L773.0 822.6L774.0 834.4L775.0 831.8L776.0 826.7L777.0 831.0L778.0 842.8L779.0 831.8L780.0 831.1L781.0 846.1L782.0 828.5L783.0 831.6L784.0 844.2L785.0 835.6L786.0 823.8L787.0 830.8L788.0 822.5L789.0 833.0L790.0 839.5L791.0 827.6L792.0 848.0L793.0 846.6L794.0 844.2L795.0 835.1L795.5 840.1L796.0 843.1L797.0 845.0L798.0 846.5L799.0 824.6L800.0 833.1L801.0 829.8L802.0 834.4L803.0 837.2L804.0 849.7L805.0 834.3L806.0 840.0L807.0 834.5L808.0 834.0L809.0 845.4L810.0 828.1L811.0 839.6L812.0 848.9L813.0 857.8L814.0 833.2L815.0 831.0L816.0 829.3L817.0 835.0L818.0 838.0L819.0 838.4L820.0 845.9L821.0 837.1L822.0 841.5L823.0 829.4L824.0 835.8L825.0 839.2L826.0 825.4L827.0 841.2L828.0 846.4L829.0 841.3L830.0 842.4L831.0 841.1L832.0 834.1L833.0 841.7L834.0 838.3L835.0 842.4L836.0 842.9L837.0 843.9L838.0 836.0L839.0 844.2L840.0 855.7L841.0 851.6L842.0 845.3L843.0 843.0L844.0 853.9L845.0 848.7L846.0 838.8L847.0 847.4L848.0 860.8L849.0 840.7L850.0 851.2L851.0 846.4L852.0 850.5L853.0 848.2L854.0 845.2L855.0 834.1L856.0 849.6L857.0 851.3L858.0 850.2L859.0 844.2L860.0 847.3L861.0 865.2L862.0 844.3L863.0 849.4L864.0 843.7L865.0 850.4L866.0 853.8L867.0 860.1L868.0 854.3L869.0 853.3L870.0 856.0L871.0 857.6L872.0 854.2L873.0 854.7L874.0 862.7L875.0 851.1L876.0 854.6L877.0 849.0L878.0 851.1L879.0 863.0L880.0 849.1L881.0 856.1L882.0 865.6L883.0 855.4L884.0 850.7L885.0 846.5L886.0 835.3L887.0 844.6L888.0 844.3L889.0 855.5L890.0 853.4L891.0 840.9L892.0 852.0L893.0 844.1L894.0 858.4L895.0 856.9L896.0 852.6L897.0 846.8L898.0 860.4L899.0 855.7L900.0 857.9L901.0 854.8L902.0 850.7L903.0 857.5L904.0 848.5L905.0 858.7L906.0 855.3L907.0 844.5L908.0 857.4L909.0 854.4L910.0 852.4L911.0 854.5L912.0 860.1L913.0 848.3L914.0 848.9L915.0 860.2L916.0 857.0L917.0 845.5L918.0 857.1L919.0 846.2L920.0 861.2L921.0 858.8L922.0 860.3L923.0 848.2L924.0 853.0L925.0 863.3L926.0 849.7L927.0 861.7L928.0 857.4L929.0 859.9L930.0 854.3L931.0 863.1L932.0 862.3L933.0 865.3L934.0 875.5L935.0 859.6L936.0 861.7L937.0 855.3L938.0 872.5L939.0 860.2L940.0 867.3L941.0 856.3L942.0 861.9L943.0 867.4L944.0 867.0L945.0 862.9L946.0 870.2L947.0 865.3L948.0 870.7L949.0 862.8L950.0 867.8L951.0 860.9L952.0 871.1L953.0 863.2L954.0 863.2L955.0 859.6L956.0 867.9L957.0 863.0L958.0 860.0L959.0 867.4L960.0 855.2L961.0 863.7L962.0 865.5L963.0 847.2L964.0 860.4L964.5 858.0L965.0 856.2L966.0 857.3L967.0 849.1L968.0 858.8L969.0 857.4L970.0 847.5L971.0 855.4L972.0 849.6L973.0 857.6L974.0 852.0L975.0 858.1L976.0 849.3L977.0 854.8L978.0 855.8L979.0 857.2L980.0 865.0L981.0 871.1L982.0 850.9L983.0 864.6L984.0 858.9L985.0 859.4L986.0 859.8L987.0 861.2L988.0 862.1L989.0 867.7L990.0 870.7L991.0 866.2L992.0 865.0L993.0 868.5L994.0 868.1L995.0 876.4L996.0 861.6L997.0 859.8L998.0 866.4L999.0 870.1L1000.0 867.7L1001.0 869.9L1002.0 854.3L1003.0 864.0L1004.0 864.1L1005.0 860.0L1006.0 864.0L1007.0 865.9L1008.0 869.3L1009.0 861.5L1010.0 857.1L1011.0 868.7L1012.0 877.2L1013.0 866.9L1014.0 866.5L1015.0 860.0L1016.0 866.6L1017.0 874.2L1018.0 854.0L1019.0 870.6L1020.0 853.8L1021.0 872.9L1022.0 869.0L1023.0 862.5L1024.0 865.6L1025.0 873.1L1026.0 857.7L1027.0 870.1L1028.0 866.6L1029.0 863.1L1030.0 871.0L1031.0 853.6L1032.0 861.9L1033.0 856.2L1034.0 861.9L1035.0 864.7L1036.0 853.5L1037.0 863.9L1038.0 864.6L1039.0 860.8L1040.0 864.1L1041.0 870.8L1042.0 867.6L1043.0 875.0L1044.0 862.0L1044.5 861.4L1045.0 873.8L1046.0 860.9L1047.0 873.9L1048.0 867.6L1049.0 871.5L1050.0 865.8L1051.0 873.6L1052.0 875.3L1053.0 874.6L1054.0 870.3L1055.0 861.9L1056.0 872.2L1057.0 868.4L1057.5 873.8L1058.0 861.8L1059.0 872.1L1060.0 869.6L1061.0 873.0L1062.0 878.5L1063.0 879.7L1064.0 883.9L1065.0 881.1L1066.0 883.0L1067.0 883.4L1068.0 876.7L1069.0 886.3L1070.0 877.6L1071.0 878.4L1072.0 883.1L1073.0 877.0L1074.0 877.8L1075.0 866.8L1076.0 875.1L1077.0 873.6L1078.0 875.9L1079.0 881.7L1080.0 877.7L1081.0 878.7L1082.0 880.3L1083.0 885.3L1084.0 886.0L1085.0 882.8L1086.0 879.7L1087.0 885.9L1088.0 880.0L1089.0 880.9L1090.0 883.7L1091.0 880.0L1092.0 877.3L1093.0 876.9L1094.0 882.1L1095.0 885.2L1096.0 887.9L1097.0 881.5L1098.0 887.0L1099.0 886.7L1100.0 885.0L1101.0 899.3L1102.0 883.2L1103.0 882.6L1104.0 887.2L1105.0 894.4L1106.0 884.3L1107.0 892.9L1108.0 880.7L1109.0 883.7L1110.0 884.6L1111.0 884.1L1112.0 885.8L1113.0 885.1L1114.0 884.8L1115.0 880.8L1116.0 888.6L1117.0 886.4L1118.0 887.6L1119.0 892.6L1120.0 889.2L1121.0 888.0L1122.0 894.1L1123.0 884.7L1124.0 879.1L1125.0 884.3L1126.0 881.1L1127.0 886.2L1128.0 886.3L1129.0 887.3L1130.0 889.1L1131.0 890.9L1132.0 889.7L1133.0 888.1L1134.0 885.6L1135.0 884.4L1136.0 886.5L1137.0 885.1L1138.0 880.8L1139.0 883.8L1140.0 888.9L1141.0 885.6L1142.0 881.1L1143.0 886.0L1144.0 887.6L1145.0 879.2L1146.0 891.9L1147.0 889.1L1148.0 882.7L1149.0 888.4L1150.0 884.1L1151.0 885.5L1152.0 878.1L1153.0 879.7L1154.0 880.6L1155.0 880.8L1156.0 879.0L1157.0 874.3L1158.0 877.6L1159.0 885.1L1160.0 883.3L1161.0 892.8L1162.0 893.0L1163.0 888.2L1164.0 891.3L1165.0 883.9L1166.0 894.4L1167.0 896.6L1168.0 889.8L1169.0 890.2L1170.0 891.7L1171.0 898.0L1172.0 900.0L1173.0 891.7L1174.0 895.0L1175.0 899.6L1176.0 898.8L1177.0 897.2L1178.0 900.7L1179.0 894.6L1180.0 892.1L1181.0 901.3L1182.0 902.0L1183.0 904.8L1184.0 897.1L1185.0 894.6L1186.0 898.9L1187.0 898.2L1188.0 898.9L1189.0 898.2L1190.0 904.5L1191.0 899.9L1192.0 904.5L1193.0 895.4L1194.0 893.7L1195.0 901.9L1196.0 892.1L1197.0 892.0L1198.0 891.7L1199.0 888.2L1200.0 898.0L1201.0 903.0L1202.0 897.7L1203.0 898.5L1204.0 893.0L1205.0 890.1L1206.0 896.5L1207.0 888.9L1208.0 887.0L1209.0 889.8L1210.0 898.3L1211.0 895.1L1212.0 892.1L1213.0 888.1L1214.0 888.5L1215.0 894.1L1216.0 892.2L1217.0 889.0L1217.5 897.2L1218.0 889.6L1219.0 885.8L1220.0 892.1L1221.0 898.3L1222.0 897.1L1223.0 898.5L1224.0 891.3L1225.0 897.2L1226.0 896.3L1227.0 895.0L1228.0 891.5L1229.0 902.3L1230.0 897.8L1231.0 895.4L1232.0 901.4L1233.0 909.7L1234.0 892.5L1235.0 900.4L1236.0 907.4L1237.0 907.8L1238.0 895.5L1239.0 897.9L1240.0 891.3L1241.0 900.5L1242.0 893.9L1243.0 896.3L1244.0 907.6L1245.0 896.2L1246.0 893.9L1247.0 902.2L1248.0 903.4L1249.0 903.8L1250.0 908.1L1251.0 900.4L1252.0 903.1L1253.0 906.8L1254.0 901.7L1255.0 909.1L1256.0 906.8L1257.0 902.2L1258.0 900.9L1259.0 901.3L1260.0 902.1L1261.0 891.6L1262.0 894.0L1263.0 895.7L1264.0 894.9L1265.0 895.3L1266.0 894.9L1267.0 897.3L1268.0 895.0L1269.0 897.4L1270.0 897.0L1271.0 895.2L1272.0 893.4L1273.0 891.7L1274.0 898.2L1275.0 892.4L1276.0 895.2L1277.0 897.6L1278.0 894.6L1279.0 886.3L1280.0 889.7L1281.0 901.8L1282.0 885.3L1283.0 898.0L1284.0 887.2L1285.0 892.2L1286.0 896.4L1287.0 886.8L1288.0 895.6L1289.0 880.9L1290.0 889.9L1291.0 887.5L1292.0 892.0L1293.0 893.6L1294.0 895.4L1295.0 895.2L1296.0 888.2L1297.0 885.8L1298.0 892.0L1299.0 887.5L1300.0 880.1L1301.0 879.8L1302.0 887.9L1303.0 887.9L1304.0 890.1L1305.0 890.7L1306.0 882.5L1307.0 891.1L1308.0 884.7L1309.0 891.7L1310.0 889.7L1311.0 897.0L1312.0 892.0L1313.0 888.2L1314.0 889.8L1315.0 891.3L1316.0 894.0L1317.0 895.1L1318.0 888.2L1319.0 887.9L1320.0 896.0L1321.0 893.0L1322.0 898.0L1323.0 895.8L1324.0 901.5L1325.0 897.2L1326.0 889.3L1327.0 893.2L1328.0 897.8L1329.0 891.0L1330.0 896.0L1331.0 899.3L1332.0 901.6L1333.0 900.8L1334.0 890.7L1335.0 902.7L1336.0 893.8L1337.0 898.3L1338.0 894.5L1339.0 902.5L1340.0 898.2L1341.0 899.8L1342.0 900.9L1343.0 898.8L1344.0 896.5L1345.0 905.9L1346.0 902.3L1347.0 903.4L1348.0 892.4L1349.0 891.5L1350.0 907.8L1351.0 903.8L1352.0 893.1L1353.0 902.9L1354.0 901.7L1355.0 897.2L1356.0 899.9L1357.0 910.0L1358.0 899.1L1359.0 904.6L1360.0 899.2L1361.0 896.3L1362.0 913.8L1363.0 906.5L1364.0 901.7L1365.0 902.4L1366.0 903.1L1367.0 900.0L1368.0 905.9L1369.0 906.4L1370.0 901.5L1371.0 902.6L1372.0 896.9L1373.0 903.2L1374.0 893.3L1375.0 900.8L1376.0 907.0L1377.0 899.4L1378.0 911.2L1379.0 895.3L1380.0 898.4L1381.0 898.6L1382.0 901.8L1383.0 902.3L1384.0 897.5L1385.0 890.0L1386.0 901.0L1387.0 897.3L1388.0 897.2L1389.0 887.4L1390.0 896.3L1391.0 894.9L1392.0 900.3L1393.0 904.3L1394.0 895.4L1395.0 899.3L1396.0 900.9L1397.0 898.8L1398.0 904.9L1399.0 905.8L1399.5 901.0L1400.0 901.7L1401.0 907.0L1402.0 900.3L1403.0 909.3L1404.0 912.4L1405.0 913.5L1406.0 907.8L1407.0 919.1L1408.0 921.3L1409.0 909.0L1410.0 919.4L1411.0 917.6L1412.0 916.1L1413.0 908.9L1414.0 916.1L1415.0 906.9L1416.0 911.5L1417.0 914.5L1418.0 912.9L1419.0 909.3L1420.0 911.8L1421.0 909.5L1422.0 911.2L1423.0 906.8L1424.0 905.2L1425.0 907.7L1426.0 904.7L1427.0 915.0L1428.0 921.2L1429.0 913.0L1430.0 915.0L1431.0 905.7L1432.0 909.6L1433.0 905.8L1434.0 913.4L1435.0 911.5L1436.0 907.2L1437.0 917.5L1438.0 911.8L1439.0 915.5L1440.0 916.3L1441.0 918.8L1442.0 918.5L1443.0 913.6L1444.0 912.8L1445.0 911.3L1446.0 909.9L1447.0 921.7L1448.0 912.4L1448.5 920.7L1449.0 911.1L1450.0 911.4L1451.0 918.1L1452.0 913.1L1453.0 910.2L1454.0 919.9L1455.0 907.6L1456.0 909.3L1457.0 915.2L1458.0 918.4L1459.0 911.9L1460.0 908.4L1461.0 920.2L1461.5 911.3L1462.0 909.1L1463.0 912.6L1464.0 917.3L1465.0 902.3L1466.0 909.8L1467.0 917.3L1468.0 917.2L1469.0 915.9L1470.0 915.7L1471.0 918.4L1472.0 920.3L1473.0 913.7L1474.0 914.1L1475.0 918.9L1476.0 914.2L1477.0 909.9L1478.0 914.6L1479.0 910.6L1480.0 917.7L1481.0 918.7L1482.0 912.3L1483.0 914.4L1484.0 916.4L1485.0 919.8L1486.0 918.8L1487.0 915.8L1488.0 916.1L1489.0 920.6L1490.0 918.3L1491.0 918.3L1492.0 912.4L1493.0 917.9L1494.0 919.3L1495.0 918.3L1496.0 914.3L1497.0 911.7L1497.5 921.5L1498.0 921.5L1499.0 919.3L1500.0 915.0L1501.0 916.4L1502.0 917.8L1503.0 920.8L1504.0 918.0L1505.0 914.1L1506.0 915.1L1507.0 912.1L1508.0 924.0L1509.0 913.5L1510.0 922.1L1511.0 917.1L1512.0 923.2L1513.0 911.2L1514.0 918.4L1515.0 911.7L1516.0 911.8L1517.0 912.4L1518.0 909.9L1519.0 911.5L1520.0 914.2L1521.0 922.2L1522.0 913.4L1523.0 908.8L1524.0 917.9L1525.0 921.1L1526.0 904.5L1527.0 917.2L1528.0 909.5L1529.0 907.9L1530.0 917.7L1531.0 920.9L1532.0 922.5L1533.0 914.9L1534.0 912.9L1535.0 914.7L1536.0 916.0L1537.0 916.8L1538.0 918.3L1539.0 914.2L1540.0 914.5L1541.0 912.7L1542.0 908.4L1543.0 912.7L1544.0 916.4L1545.0 913.6L1546.0 902.1L1547.0 916.7L1548.0 907.2L1549.0 920.3L1550.0 919.7L1551.0 913.6L1552.0 918.5L1553.0 907.2L1554.0 909.7L1555.0 907.6L1556.0 912.0L1557.0 910.7L1558.0 911.4L1559.0 910.9L1560.0 916.5L1561.0 910.4L1562.0 908.6L1563.0 910.7L1564.0 912.0L1565.0 911.6L1566.0 905.4L1567.0 907.3L1568.0 907.9L1569.0 905.1L1570.0 902.1L1571.0 905.9L1572.0 897.3L1573.0 906.7L1574.0 902.4L1575.0 906.1L1576.0 906.7L1577.0 914.9L1578.0 915.1L1579.0 916.0L1580.0 907.3L1581.0 905.1L1582.0 910.7L1583.0 903.1L1584.0 907.2L1585.0 904.5L1586.0 907.6L1587.0 911.1L1588.0 903.6L1589.0 909.3L1590.0 909.1L1591.0 909.4L1592.0 910.6L1593.0 907.1L1594.0 908.6L1595.0 907.6L1596.0 902.9L1597.0 915.5L1598.0 912.5L1599.0 912.5L1600.0 907.3L1601.0 902.9L1602.0 911.4L1603.0 906.8L1604.0 918.0L1605.0 918.0L1606.0 908.9L1607.0 916.6L1608.0 914.3L1609.0 911.3L1610.0 905.5L1611.0 914.0L1612.0 914.9L1613.0 914.8L1614.0 908.8L1615.0 910.9L1616.0 910.7L1617.0 910.4L1618.0 907.6L1619.0 914.2L1620.0 911.9L1621.0 907.8L1622.0 910.9L1623.0 912.8L1624.0 910.0L1625.0 909.7L1626.0 911.2L1627.0 905.5L1628.0 911.7L1629.0 906.7L1630.0 910.5L1631.0 914.9L1632.0 908.7L1633.0 915.4L1634.0 913.8L1635.0 917.0L1636.0 906.2L1637.0 897.0L1638.0 909.1L1639.0 921.4L1640.0 914.8L1641.0 913.0L1642.0 914.6L1643.0 916.3L1644.0 914.0L1645.0 923.8L1646.0 915.3L1647.0 909.4L1648.0 909.6L1649.0 914.5L1650.0 915.0L1651.0 918.5L1652.0 919.0L1653.0 919.4L1654.0 911.0L1655.0 917.0L1656.0 912.7L1657.0 916.1L1658.0 911.2L1659.0 920.7L1660.0 920.9L1661.0 916.5L1662.0 911.1L1663.0 919.1L1664.0 915.9L1665.0 909.1L1666.0 917.1L1667.0 917.9L1668.0 916.1L1669.0 906.8L1670.0 916.7L1671.0 917.7L1672.0 911.2L1673.0 917.9L1674.0 915.4L1675.0 917.3L1676.0 906.4L1677.0 912.3L1678.0 915.5L1679.0 907.5L1680.0 914.2L1681.0 920.8L1682.0 907.5L1683.0 919.6L1684.0 917.6L1685.0 910.3L1686.0 910.8L1687.0 910.6L1688.0 915.4L1689.0 904.8L1690.0 916.7L1691.0 907.7L1692.0 912.1L1693.0 911.6L1694.0 916.2L1695.0 909.0L1696.0 909.5L1697.0 917.4L1698.0 919.0L1699.0 912.0L1700.0 910.5L1701.0 912.8L1702.0 911.8L1703.0 911.4L1704.0 907.3L1705.0 902.3L1706.0 912.2L1707.0 911.5L1708.0 916.5L1709.0 916.8L1710.0 919.3L1711.0 911.3L1712.0 916.5L1713.0 909.2L1714.0 915.4L1715.0 916.8L1716.0 911.8L1717.0 914.0L1718.0 923.6L1719.0 910.6L1720.0 917.9L1721.0 912.1L1722.0 916.9L1723.0 902.8L1724.0 907.6L1725.0 911.6L1726.0 919.1L1727.0 911.6L1728.0 907.0L1729.0 910.0L1730.0 914.7L1731.0 905.2L1732.0 911.5L1733.0 910.3L1734.0 909.2L1735.0 912.3L1736.0 907.5L1737.0 912.7L1738.0 912.8L1739.0 917.0L1740.0 911.3L1741.0 909.5L1742.0 905.2L1743.0 907.3L1744.0 904.1L1745.0 914.6L1746.0 899.7L1747.0 910.8L1748.0 911.0L1749.0 911.9L1750.0 907.5L1751.0 918.4L1752.0 908.2L1753.0 903.1L1754.0 906.9L1755.0 906.7L1756.0 915.0L1757.0 909.6L1758.0 906.2L1759.0 906.3L1760.0 909.4L1761.0 908.0L1762.0 909.4L1763.0 913.7L1764.0 904.0L1765.0 906.7L1766.0 910.2L1767.0 903.2L1768.0 911.6L1769.0 914.5L1770.0 909.4L1771.0 912.1L1772.0 907.4L1773.0 908.7L1774.0 909.7L1775.0 908.3L1776.0 913.2L1777.0 906.4L1778.0 911.7L1779.0 906.3L1780.0 914.1L1781.0 913.2"/>
<path stroke="#7030A0" d="M141.0 1010.9L142.0 1004.3L143.0 1012.9L144.0 1009.4L145.0 998.2L146.0 1017.0L147.0 1009.4L148.0 1014.9L149.0 1024.0L150.0 1013.1L151.0 1003.9L152.0 1007.1L153.0 1019.6L154.0 1002.2L155.0 1014.9L156.0 1016.0L157.0 1005.4L158.0 1015.2L159.0 1018.3L160.0 1009.1L161.0 1011.5L162.0 1019.2L163.0 1006.3L164.0 1009.7L165.0 1023.2L166.0 1017.3L167.0 1006.8L168.0 1017.4L169.0 1031.6L170.0 1007.1L171.0 1023.6L172.0 1022.9L173.0 1015.9L174.0 1021.2L175.0 1011.7L176.0 1027.4L177.0 1028.4L178.0 1009.4L179.0 1013.9L180.0 1016.1L181.0 1010.5L182.0 1017.0L183.0 1007.0L184.0 1018.0L185.0 1012.4L186.0 1014.6L187.0 1018.7L188.0 1022.4L189.0 1009.5L190.0 1022.4L191.0 1023.5L192.0 1017.0L193.0 1029.0L194.0 1013.4L195.0 1015.4L196.0 1022.3L197.0 1015.4L198.0 1030.3L199.0 1022.4L200.0 1033.6L201.0 1014.6L202.0 1015.6L203.0 1031.7L204.0 1015.3L205.0 1030.5L206.0 1017.1L207.0 1025.1L208.0 1031.9L209.0 1023.2L210.0 1015.4L211.0 1020.4L212.0 1032.5L213.0 1025.8L214.0 1029.8L215.0 1025.4L216.0 1027.1L217.0 1023.6L218.0 1017.6L219.0 1029.0L220.0 1026.4L221.0 1010.1L222.0 1025.1L223.0 1032.2L224.0 1039.0L225.0 1015.2L226.0 1025.8L227.0 1029.1L228.0 1030.7L229.0 1020.5L230.0 1029.5L231.0 1023.0L232.0 1025.9L233.0 1022.7L234.0 1029.0L235.0 1024.3L236.0 1029.4L237.0 1026.9L238.0 1034.2L239.0 1039.9L240.0 1027.9L241.0 1023.7L242.0 1027.6L243.0 1025.9L244.0 1018.4L245.0 1030.7L246.0 1027.5L247.0 1037.7L248.0 1030.8L249.0 1038.6L250.0 1037.9L251.0 1029.5L252.0 1031.1L253.0 1030.1L254.0 1031.0L255.0 1040.4L256.0 1031.4L257.0 1032.1L258.0 1029.5L259.0 1045.0L260.0 1032.7L261.0 1034.2L262.0 1029.0L263.0 1037.2L264.0 1029.7L265.0 1030.6L266.0 1020.6L267.0 1023.9L268.0 1037.1L269.0 1041.2L270.0 1023.9L271.0 1036.8L272.0 1036.7L273.0 1056.9L274.0 1027.7L275.0 1029.7L276.0 1026.7L277.0 1039.9L278.0 1041.2L279.0 1031.5L280.0 1044.0L281.0 1047.9L282.0 1029.3L283.0 1036.3L284.0 1030.7L285.0 1027.3L286.0 1028.7L287.0 1030.4L288.0 1023.1L289.0 1031.8L290.0 1038.4L291.0 1025.8L292.0 1029.0L293.0 1026.3L294.0 1035.9L295.0 1032.5L296.0 1040.2L297.0 1031.2L298.0 1022.9L299.0 1037.9L300.0 1031.8L301.0 1042.3L302.0 1039.2L303.0 1014.8L304.0 1020.7L305.0 1034.1L306.0 1029.3L307.0 1020.2L308.0 1030.7L309.0 1040.5L310.0 1035.2L311.0 1024.6L312.0 1030.5L313.0 1033.7L314.0 1025.0L315.0 1035.7L316.0 1019.2L317.0 1035.1L318.0 1030.3L319.0 1024.1L320.0 1022.2L321.0 1021.0L322.0 1014.5L323.0 1027.9L324.0 1030.0L325.0 1026.4L326.0 1022.6L327.0 1021.3L328.0 1013.6L329.0 1015.6L330.0 1009.7L331.0 1023.9L332.0 1013.6L333.0 1026.4L334.0 1015.5L335.0 1029.8L336.0 1030.7L337.0 1030.4L338.0 1027.7L339.0 1017.3L340.0 1016.7L341.0 1013.3L342.0 1020.0L343.0 1028.6L344.0 1009.2L345.0 1032.5L346.0 1011.7L347.0 1007.0L348.0 1016.7L349.0 1021.2L350.0 1010.9L351.0 1005.8L352.0 1023.7L353.0 1004.6L354.0 1017.4L355.0 1011.5L356.0 1007.6L357.0 1009.3L358.0 1001.1L359.0 1000.0L360.0 1008.1L361.0 998.5L362.0 999.3L363.0 1012.5L364.0 1013.8L365.0 1008.4L366.0 1006.1L367.0 997.8L368.0 999.0L368.5 993.3L369.0 980.2L370.0 999.6L371.0 999.9L372.0 1005.6L373.0 990.4L374.0 1007.4L375.0 995.6L376.0 990.8L377.0 998.0L378.0 1006.3L379.0 1000.2L380.0 1003.1L381.0 995.4L382.0 1003.8L383.0 1005.5L384.0 992.9L385.0 999.4L386.0 987.4L387.0 995.5L388.0 983.8L389.0 993.9L390.0 990.0L391.0 982.0L392.0 989.5L393.0 980.1L394.0 985.1L395.0 977.8L396.0 985.2L397.0 977.8L398.0 989.0L399.0 982.4L400.0 982.3L401.0 969.5L402.0 963.8L403.0 971.5L404.0 987.7L405.0 969.1L406.0 982.4L407.0 981.9L408.0 969.2L409.0 970.8L410.0 979.8L411.0 968.8L412.0 967.0L413.0 965.1L414.0 968.5L415.0 966.5L416.0 974.3L417.0 967.0L418.0 972.3L419.0 963.1L420.0 979.2L421.0 961.5L422.0 960.5L423.0 955.5L424.0 948.9L425.0 953.4L426.0 959.6L427.0 951.0L428.0 962.0L429.0 945.3L430.0 944.2L431.0 956.1L432.0 955.7L433.0 946.0L434.0 958.2L435.0 959.2L436.0 951.7L437.0 940.5L438.0 954.0L439.0 943.5L440.0 942.7L441.0 945.2L442.0 936.8L443.0 948.3L444.0 934.3L445.0 942.8L446.0 939.6L447.0 944.6L448.0 936.2L449.0 937.4L450.0 929.1L451.0 929.1L452.0 925.8L453.0 933.6L454.0 923.7L455.0 936.6L456.0 925.4L457.0 917.7L458.0 920.1L459.0 930.7L460.0 919.4L461.0 925.3L462.0 910.7L462.5 923.1L463.0 925.1L464.0 923.3L465.0 924.9L466.0 913.2L467.0 908.0L468.0 910.3L469.0 925.4L470.0 922.2L471.0 924.9L472.0 915.2L473.0 924.3L474.0 908.4L475.0 921.4L476.0 911.5L477.0 915.2L478.0 922.1L479.0 923.1L480.0 915.7L481.0 913.9L482.0 925.0L483.0 922.1L484.0 910.8L485.0 916.3L486.0 912.8L487.0 919.6L488.0 915.4L489.0 914.2L490.0 911.1L491.0 906.2L492.0 915.2L493.0 909.9L494.0 892.1L495.0 903.0L496.0 905.9L497.0 898.7L497.5 897.0L498.0 898.6L499.0 904.1L500.0 895.6L501.0 903.4L502.0 909.7L503.0 906.5L504.0 906.2L505.0 897.7L506.0 906.6L507.0 898.4L508.0 903.6L509.0 889.7L510.0 905.1L511.0 892.9L512.0 897.0L513.0 903.8L514.0 896.8L515.0 893.5L516.0 895.6L517.0 904.5L518.0 904.7L519.0 901.7L520.0 892.7L521.0 894.4L522.0 901.7L523.0 902.4L524.0 892.7L525.0 892.9L526.0 901.8L527.0 904.0L528.0 896.8L529.0 887.8L530.0 906.0L531.0 895.2L532.0 897.6L533.0 879.6L534.0 888.7L535.0 892.4L536.0 895.7L537.0 888.7L538.0 885.1L539.0 884.6L540.0 892.0L541.0 897.4L542.0 898.6L543.0 888.7L544.0 896.0L545.0 901.0L546.0 908.7L547.0 907.7L548.0 907.5L549.0 896.9L550.0 913.2L551.0 907.0L552.0 909.3L553.0 904.0L554.0 907.6L555.0 907.2L556.0 907.5L557.0 905.5L558.0 914.7L559.0 916.5L560.0 908.9L561.0 909.0L562.0 910.7L563.0 915.2L564.0 926.5L565.0 919.5L566.0 932.1L567.0 915.5L568.0 917.0L569.0 919.3L570.0 919.1L571.0 927.0L572.0 936.7L573.0 921.2L574.0 928.8L575.0 935.7L576.0 943.2L577.0 929.7L578.0 935.3L579.0 938.2L580.0 930.9L581.0 934.6L582.0 929.3L583.0 926.5L584.0 929.0L585.0 940.9L586.0 942.8L587.0 936.4L588.0 927.6L589.0 944.0L590.0 936.6L591.0 946.8L592.0 938.4L593.0 931.6L594.0 937.3L595.0 935.8L596.0 948.2L596.5 928.2L597.0 938.1L598.0 941.7L599.0 934.8L600.0 949.8L601.0 953.0L602.0 956.3L603.0 958.4L604.0 955.6L605.0 961.1L606.0 954.0L607.0 956.6L608.0 957.8L609.0 957.1L610.0 960.2L611.0 952.2L612.0 956.1L613.0 953.8L614.0 957.3L615.0 958.7L616.0 953.2L617.0 966.7L618.0 971.3L619.0 966.1L620.0 965.7L621.0 963.9L622.0 968.3L623.0 970.1L624.0 976.8L625.0 974.0L626.0 978.5L627.0 978.6L628.0 973.8L629.0 969.3L630.0 971.1L631.0 972.6L632.0 979.7L633.0 987.7L634.0 975.9L635.0 986.2L636.0 981.7L637.0 990.7L638.0 997.0L639.0 990.5L640.0 986.6L641.0 988.1L642.0 993.6L643.0 984.1L644.0 982.4L645.0 987.3L646.0 994.5L647.0 984.0L648.0 995.1L649.0 996.5L650.0 993.8L651.0 993.6L652.0 992.1L653.0 996.8L654.0 1003.2L655.0 1006.0L656.0 999.7L657.0 999.8L658.0 998.0L659.0 1019.0L660.0 994.4L661.0 993.8L662.0 1010.4L663.0 996.9L664.0 1009.7L665.0 999.0L666.0 1010.1L667.0 1012.3L668.0 1002.1L669.0 1005.3L670.0 1000.3L671.0 1012.0L672.0 1005.6L673.0 1002.5L674.0 1011.1L675.0 1011.1L676.0 1009.1L677.0 1007.2L678.0 1016.0L679.0 1006.7L680.0 1005.8L681.0 1010.0L682.0 1015.0L683.0 1010.0L684.0 1009.0L684.5 1006.9L685.0 1008.5L686.0 1009.8L687.0 1026.1L688.0 1004.3L689.0 1012.7L690.0 1016.3L691.0 1011.3L692.0 1010.0L693.0 1020.8L694.0 1026.2L695.0 1025.1L696.0 1019.3L697.0 1017.2L698.0 1024.1L699.0 1011.3L700.0 1016.5L701.0 1030.4L702.0 1025.0L703.0 1024.1L704.0 1022.7L705.0 1022.2L706.0 1020.2L707.0 1029.0L708.0 1029.2L709.0 1029.9L710.0 1013.6L711.0 1035.5L712.0 1033.7L713.0 1038.3L714.0 1026.8L715.0 1018.3L715.5 1023.6L716.0 1026.2L717.0 1043.2L718.0 1028.1L719.0 1030.2L720.0 1039.1L721.0 1039.1L722.0 1040.1L723.0 1032.4L724.0 1046.3L725.0 1038.5L726.0 1031.9L727.0 1039.6L728.0 1029.8L729.0 1031.3L730.0 1035.1L731.0 1032.8L732.0 1037.2L733.0 1036.7L734.0 1038.1L735.0 1036.2L736.0 1047.8L737.0 1036.1L738.0 1039.2L739.0 1037.4L740.0 1039.6L741.0 1036.0L742.0 1055.8L743.0 1042.6L744.0 1049.0L745.0 1043.0L746.0 1038.4L747.0 1042.9L748.0 1042.4L749.0 1040.5L750.0 1048.4L751.0 1057.2L752.0 1050.7L753.0 1056.0L754.0 1058.3L755.0 1042.5L756.0 1063.2L757.0 1047.6L758.0 1064.7L759.0 1057.3L760.0 1060.2L761.0 1069.4L762.0 1063.3L763.0 1049.6L764.0 1048.4L765.0 1050.8L766.0 1063.0L767.0 1058.9L768.0 1062.1L769.0 1059.2L770.0 1063.5L771.0 1050.5L772.0 1045.8L773.0 1052.2L774.0 1060.4L775.0 1050.1L776.0 1043.6L777.0 1052.6L778.0 1058.6L779.0 1057.1L780.0 1054.1L781.0 1054.1L782.0 1046.8L783.0 1058.1L784.0 1068.5L785.0 1057.3L786.0 1068.8L787.0 1055.2L788.0 1060.2L789.0 1060.6L790.0 1063.7L791.0 1055.7L792.0 1070.8L793.0 1063.5L794.0 1054.7L795.0 1069.0L796.0 1066.7L797.0 1059.4L798.0 1065.9L799.0 1071.2L800.0 1070.9L801.0 1069.4L802.0 1064.4L803.0 1069.8L804.0 1075.5L805.0 1080.6L806.0 1072.8L807.0 1074.1L808.0 1074.9L809.0 1068.5L810.0 1060.6L811.0 1066.6L812.0 1068.5L813.0 1070.6L814.0 1069.1L815.0 1064.9L816.0 1065.6L817.0 1067.0L818.0 1063.3L819.0 1063.3L820.0 1058.3L821.0 1065.5L822.0 1067.8L823.0 1063.5L824.0 1065.6L825.0 1067.4L826.0 1061.4L827.0 1063.5L828.0 1062.1L829.0 1069.5L830.0 1062.3L831.0 1068.5L832.0 1059.0L833.0 1078.2L834.0 1072.9L835.0 1066.9L836.0 1071.2L837.0 1081.5L838.0 1073.3L839.0 1066.2L840.0 1074.0L841.0 1072.4L842.0 1078.0L843.0 1077.0L844.0 1069.0L845.0 1078.5L846.0 1082.5L847.0 1085.0L848.0 1080.4L849.0 1088.4L850.0 1086.8L851.0 1083.8L852.0 1088.1L853.0 1068.2L854.0 1087.3L855.0 1088.7L856.0 1081.3L857.0 1086.3L858.0 1079.3L859.0 1082.1L860.0 1082.4L861.0 1078.4L862.0 1082.9L863.0 1075.6L864.0 1083.9L865.0 1092.9L866.0 1093.7L867.0 1084.2L868.0 1093.1L869.0 1086.2L870.0 1077.5L871.0 1080.7L872.0 1083.5L873.0 1083.6L874.0 1086.9L875.0 1079.9L876.0 1081.3L877.0 1088.5L878.0 1083.9L879.0 1085.1L880.0 1082.8L881.0 1086.3L882.0 1086.5L883.0 1079.7L884.0 1089.2L885.0 1081.3L886.0 1086.5L887.0 1083.9L888.0 1088.9L889.0 1087.6L890.0 1089.4L891.0 1087.9L892.0 1087.1L893.0 1089.1L894.0 1088.5L895.0 1085.2L896.0 1082.3L897.0 1092.4L898.0 1096.4L899.0 1086.5L900.0 1093.8L901.0 1089.2L902.0 1093.3L903.0 1097.0L904.0 1095.1L905.0 1092.9L906.0 1085.6L907.0 1094.0L908.0 1095.3L909.0 1101.6L910.0 1093.3L911.0 1096.5L912.0 1098.3L913.0 1103.6L914.0 1092.5L915.0 1101.5L916.0 1097.3L917.0 1094.5L918.0 1091.0L919.0 1092.8L920.0 1101.4L921.0 1094.9L922.0 1092.7L923.0 1095.3L924.0 1103.5L925.0 1101.8L926.0 1101.0L927.0 1101.6L928.0 1100.6L929.0 1094.9L930.0 1091.6L931.0 1102.6L932.0 1096.1L933.0 1097.2L934.0 1094.4L935.0 1098.9L936.0 1102.8L937.0 1094.5L938.0 1097.1L939.0 1096.6L940.0 1099.3L941.0 1096.1L942.0 1096.3L943.0 1093.3L944.0 1096.2L945.0 1092.7L946.0 1099.4L947.0 1095.4L948.0 1103.7L949.0 1093.0L950.0 1091.5L951.0 1100.0L952.0 1098.8L953.0 1090.1L954.0 1107.8L955.0 1096.1L956.0 1102.1L957.0 1095.9L958.0 1101.0L959.0 1103.2L960.0 1096.8L961.0 1100.8L962.0 1103.4L963.0 1108.9L964.0 1104.7L965.0 1106.9L966.0 1103.8L967.0 1104.7L968.0 1104.6L969.0 1101.1L970.0 1094.0L971.0 1094.5L972.0 1103.0L973.0 1103.4L974.0 1101.3L975.0 1099.1L976.0 1099.5L977.0 1097.6L978.0 1102.8L979.0 1096.3L980.0 1097.3L981.0 1086.5L982.0 1086.7L983.0 1075.9L983.3 1072.3L984.0 1071.7L985.0 1068.2L986.0 1070.4L986.5 1065.9L987.0 1068.5L988.0 1069.8L989.0 1077.0L990.0 1076.2L990.6 1080.4L991.0 1087.1L992.0 1085.3L993.0 1096.4L993.9 1103.6L995.0 1102.6L996.0 1106.9L997.0 1107.7L998.0 1106.2L999.0 1099.0L1000.0 1102.9L1001.0 1103.2L1002.0 1108.8L1003.0 1104.0L1004.0 1103.0L1005.0 1098.6L1006.0 1103.2L1007.0 1104.9L1008.0 1093.4L1009.0 1103.5L1010.0 1105.3L1011.0 1102.5L1012.0 1102.9L1013.0 1101.5L1014.0 1107.8L1015.0 1102.1L1016.0 1109.6L1017.0 1106.5L1018.0 1097.4L1019.0 1104.4L1020.0 1107.1L1021.0 1109.7L1022.0 1107.0L1023.0 1106.3L1024.0 1110.5L1025.0 1114.0L1026.0 1100.5L1027.0 1105.7L1028.0 1115.5L1029.0 1110.2L1030.0 1105.4L1031.0 1116.8L1032.0 1118.3L1033.0 1109.7L1034.0 1114.1L1035.0 1111.5L1036.0 1113.3L1037.0 1116.2L1038.0 1111.5L1039.0 1112.5L1040.0 1111.7L1041.0 1106.1L1042.0 1115.2L1043.0 1117.0L1044.0 1114.3L1045.0 1114.0L1046.0 1117.4L1047.0 1111.3L1048.0 1110.0L1049.0 1116.5L1050.0 1115.4L1051.0 1122.3L1052.0 1109.2L1053.0 1115.1L1054.0 1110.4L1055.0 1124.5L1056.0 1114.0L1057.0 1119.1L1058.0 1106.6L1059.0 1112.0L1060.0 1119.5L1061.0 1114.6L1062.0 1113.9L1063.0 1119.5L1064.0 1117.2L1065.0 1117.4L1066.0 1118.1L1067.0 1115.1L1068.0 1123.6L1069.0 1121.6L1070.0 1116.9L1071.0 1116.1L1072.0 1110.2L1073.0 1113.5L1074.0 1123.8L1075.0 1113.7L1076.0 1117.2L1077.0 1126.0L1078.0 1123.8L1079.0 1121.1L1080.0 1121.6L1081.0 1118.8L1082.0 1121.1L1083.0 1120.9L1084.0 1126.4L1085.0 1124.3L1086.0 1118.5L1087.0 1127.5L1088.0 1125.2L1089.0 1126.4L1090.0 1127.0L1091.0 1125.1L1092.0 1122.8L1093.0 1127.5L1094.0 1126.9L1095.0 1120.9L1096.0 1121.3L1097.0 1123.1L1098.0 1124.2L1099.0 1121.8L1100.0 1116.1L1101.0 1127.1L1102.0 1119.2L1103.0 1117.1L1104.0 1118.4L1105.0 1122.2L1106.0 1121.0L1107.0 1112.1L1108.0 1115.3L1109.0 1115.1L1110.0 1118.6L1111.0 1122.3L1112.0 1119.0L1113.0 1130.1L1114.0 1125.5L1115.0 1128.0L1116.0 1124.9L1117.0 1116.6L1118.0 1123.9L1119.0 1115.8L1120.0 1117.8L1121.0 1123.0L1122.0 1122.4L1123.0 1125.0L1124.0 1121.5L1125.0 1127.2L1126.0 1126.2L1127.0 1124.5L1128.0 1120.1L1129.0 1120.8L1130.0 1127.8L1131.0 1135.5L1132.0 1121.8L1133.0 1124.6L1134.0 1120.4L1135.0 1114.0L1136.0 1126.8L1137.0 1125.1L1138.0 1127.3L1139.0 1122.0L1140.0 1121.3L1141.0 1131.0L1142.0 1121.1L1143.0 1128.0L1144.0 1129.1L1145.0 1125.3L1146.0 1123.1L1147.0 1126.5L1148.0 1118.4L1149.0 1124.6L1150.0 1124.3L1151.0 1120.2L1152.0 1124.9L1153.0 1129.7L1154.0 1135.5L1155.0 1121.4L1156.0 1127.7L1157.0 1127.6L1158.0 1124.5L1159.0 1123.4L1160.0 1127.7L1161.0 1128.7L1162.0 1119.6L1163.0 1131.8L1164.0 1124.8L1165.0 1125.8L1166.0 1122.9L1167.0 1130.4L1168.0 1119.7L1168.5 1123.2L1169.0 1125.7L1170.0 1121.3L1171.0 1124.1L1172.0 1127.2L1173.0 1130.0L1174.0 1124.4L1175.0 1123.1L1176.0 1127.1L1177.0 1125.6L1178.0 1120.8L1179.0 1128.7L1180.0 1123.9L1181.0 1121.4L1182.0 1129.1L1183.0 1127.5L1184.0 1121.9L1185.0 1127.9L1186.0 1122.3L1187.0 1122.9L1188.0 1121.1L1189.0 1128.8L1190.0 1124.8L1191.0 1127.8L1192.0 1120.1L1193.0 1123.7L1194.0 1118.6L1195.0 1122.9L1196.0 1123.9L1197.0 1124.8L1198.0 1119.3L1199.0 1130.0L1200.0 1119.0L1201.0 1130.7L1202.0 1125.3L1203.0 1130.1L1204.0 1121.6L1205.0 1126.3L1206.0 1128.2L1207.0 1134.9L1208.0 1127.6L1209.0 1133.3L1210.0 1127.5L1211.0 1132.0L1212.0 1126.2L1213.0 1126.7L1214.0 1130.2L1215.0 1121.3L1216.0 1119.9L1217.0 1127.2L1217.5 1135.2L1218.0 1132.4L1219.0 1126.8L1220.0 1128.9L1221.0 1127.1L1222.0 1127.7L1223.0 1131.8L1224.0 1121.3L1225.0 1121.0L1226.0 1117.8L1227.0 1122.0L1228.0 1129.6L1229.0 1125.0L1230.0 1119.9L1231.0 1122.5L1232.0 1123.0L1233.0 1128.9L1234.0 1126.6L1235.0 1126.5L1236.0 1130.0L1237.0 1127.5L1238.0 1130.0L1239.0 1122.6L1240.0 1122.2L1241.0 1124.7L1242.0 1134.6L1243.0 1122.1L1244.0 1127.6L1245.0 1129.1L1246.0 1123.4L1247.0 1122.5L1248.0 1135.8L1249.0 1127.2L1250.0 1126.5L1251.0 1129.7L1252.0 1128.8L1253.0 1122.8L1254.0 1121.4L1255.0 1127.3L1256.0 1124.8L1257.0 1127.5L1258.0 1122.8L1259.0 1137.7L1260.0 1129.1L1261.0 1135.2L1262.0 1125.0L1263.0 1126.5L1264.0 1124.8L1265.0 1126.9L1266.0 1128.3L1267.0 1124.3L1268.0 1121.9L1269.0 1123.2L1270.0 1125.0L1271.0 1128.9L1272.0 1119.1L1273.0 1122.0L1274.0 1126.4L1275.0 1130.0L1276.0 1122.7L1277.0 1125.4L1278.0 1123.7L1279.0 1123.7L1280.0 1125.6L1281.0 1123.1L1282.0 1124.6L1283.0 1124.6L1284.0 1132.2L1285.0 1126.2L1286.0 1133.1L1287.0 1126.4L1288.0 1127.7L1289.0 1124.1L1290.0 1128.4L1291.0 1133.4L1292.0 1134.5L1293.0 1124.2L1294.0 1138.4L1295.0 1130.3L1296.0 1131.3L1297.0 1133.5L1298.0 1130.1L1299.0 1126.8L1300.0 1130.6L1301.0 1129.3L1302.0 1138.5L1303.0 1131.2L1304.0 1122.3L1305.0 1136.4L1306.0 1133.6L1307.0 1131.1L1308.0 1123.8L1309.0 1144.6L1310.0 1130.1L1311.0 1130.1L1312.0 1129.2L1313.0 1132.3L1314.0 1131.4L1315.0 1133.0L1316.0 1133.8L1317.0 1132.0L1318.0 1136.4L1319.0 1127.8L1320.0 1135.9L1321.0 1133.7L1322.0 1132.3L1323.0 1135.2L1324.0 1133.4L1325.0 1133.3L1326.0 1130.7L1327.0 1129.2L1328.0 1126.7L1329.0 1127.6L1330.0 1130.1L1331.0 1136.0L1332.0 1131.9L1333.0 1133.4L1334.0 1128.7L1335.0 1126.7L1336.0 1133.2L1337.0 1142.1L1338.0 1128.2L1339.0 1138.0L1340.0 1127.9L1341.0 1127.7L1342.0 1128.8L1343.0 1129.0L1344.0 1135.7L1345.0 1133.1L1346.0 1132.6L1347.0 1130.1L1348.0 1135.8L1349.0 1139.4L1350.0 1133.3L1351.0 1130.7L1352.0 1127.9L1353.0 1130.8L1354.0 1127.1L1355.0 1137.5L1356.0 1129.0L1357.0 1136.7L1358.0 1127.2L1359.0 1135.6L1360.0 1134.5L1361.0 1135.2L1362.0 1133.3L1363.0 1127.9L1364.0 1142.9L1365.0 1126.4L1366.0 1136.5L1367.0 1131.2L1368.0 1127.6L1369.0 1135.1L1370.0 1137.7L1371.0 1136.1L1372.0 1126.6L1373.0 1128.9L1374.0 1134.2L1375.0 1133.5L1376.0 1135.6L1377.0 1131.0L1378.0 1124.7L1379.0 1126.8L1380.0 1132.7L1381.0 1127.4L1382.0 1126.0L1383.0 1134.0L1384.0 1137.0L1385.0 1128.9L1386.0 1130.7L1387.0 1131.0L1388.0 1135.2L1389.0 1130.5L1390.0 1130.5L1391.0 1131.3L1392.0 1126.6L1393.0 1136.8L1394.0 1137.7L1395.0 1131.8L1396.0 1132.1L1397.0 1132.5L1398.0 1131.7L1399.0 1128.7L1400.0 1134.3L1401.0 1134.6L1402.0 1135.8L1403.0 1127.8L1404.0 1132.5L1405.0 1126.5L1406.0 1139.1L1407.0 1125.8L1408.0 1131.3L1409.0 1138.1L1410.0 1125.0L1411.0 1132.4L1412.0 1125.3L1413.0 1135.6L1414.0 1130.5L1415.0 1129.7L1416.0 1128.3L1417.0 1134.2L1418.0 1132.7L1419.0 1135.0L1420.0 1135.5L1421.0 1130.0L1422.0 1133.5L1423.0 1137.6L1424.0 1134.6L1425.0 1134.2L1426.0 1133.1L1427.0 1131.0L1428.0 1132.9L1429.0 1132.7L1430.0 1142.7L1431.0 1131.9L1432.0 1129.1L1433.0 1134.5L1434.0 1132.2L1435.0 1130.6L1436.0 1136.4L1437.0 1132.5L1438.0 1130.0L1439.0 1135.5L1440.0 1141.0L1441.0 1138.5L1442.0 1134.4L1443.0 1134.6L1444.0 1133.3L1445.0 1136.3L1446.0 1132.7L1447.0 1134.9L1448.0 1132.9L1449.0 1134.4L1450.0 1125.7L1451.0 1133.5L1452.0 1131.4L1453.0 1132.3L1454.0 1135.2L1455.0 1128.7L1456.0 1130.2L1457.0 1134.4L1458.0 1134.0L1459.0 1137.4L1460.0 1135.1L1461.0 1127.5L1462.0 1135.5L1463.0 1133.3L1464.0 1134.4L1465.0 1137.9L1466.0 1134.5L1467.0 1133.3L1468.0 1128.0L1469.0 1132.6L1470.0 1137.6L1471.0 1136.5L1472.0 1129.8L1473.0 1129.3L1474.0 1133.2L1475.0 1136.6L1476.0 1132.0L1477.0 1140.3L1478.0 1143.4L1479.0 1130.8L1480.0 1143.2L1481.0 1142.9L1482.0 1127.5L1483.0 1129.1L1484.0 1135.0L1485.0 1135.7L1486.0 1132.4L1487.0 1135.8L1488.0 1139.0L1489.0 1132.5L1490.0 1127.3L1491.0 1134.9L1492.0 1139.3L1493.0 1142.1L1494.0 1140.6L1495.0 1125.7L1496.0 1131.9L1497.0 1136.2L1498.0 1133.4L1499.0 1138.9L1500.0 1138.6L1501.0 1140.4L1502.0 1142.6L1503.0 1135.0L1504.0 1144.1L1505.0 1131.7L1506.0 1133.1L1507.0 1133.1L1508.0 1133.9L1509.0 1140.1L1510.0 1144.2L1511.0 1131.8L1512.0 1140.6L1513.0 1142.5L1514.0 1138.9L1515.0 1130.0L1516.0 1139.7L1517.0 1141.6L1518.0 1131.1L1519.0 1136.2L1520.0 1142.3L1521.0 1139.4L1522.0 1142.5L1523.0 1142.9L1524.0 1133.0L1525.0 1133.1L1526.0 1141.3L1527.0 1136.4L1528.0 1140.9L1529.0 1139.7L1530.0 1134.2L1531.0 1140.9L1532.0 1138.9L1533.0 1134.7L1534.0 1135.1L1535.0 1134.9L1536.0 1138.3L1537.0 1140.8L1538.0 1139.2L1539.0 1136.4L1540.0 1131.6L1541.0 1137.5L1542.0 1136.7L1543.0 1134.5L1544.0 1133.6L1545.0 1143.2L1546.0 1143.0L1547.0 1131.6L1548.0 1141.0L1549.0 1138.7L1550.0 1144.2L1551.0 1133.9L1552.0 1141.0L1553.0 1135.0L1554.0 1136.3L1555.0 1138.0L1556.0 1140.9L1557.0 1137.7L1558.0 1131.2L1559.0 1140.5L1560.0 1137.2L1561.0 1136.4L1562.0 1130.6L1563.0 1135.6L1564.0 1141.8L1565.0 1142.2L1566.0 1139.1L1567.0 1133.7L1568.0 1140.2L1569.0 1133.8L1570.0 1140.2L1571.0 1135.0L1572.0 1131.1L1573.0 1138.7L1574.0 1137.8L1575.0 1137.8L1576.0 1133.4L1577.0 1132.8L1578.0 1141.2L1579.0 1136.7L1580.0 1143.2L1581.0 1143.2L1582.0 1132.6L1583.0 1135.3L1584.0 1125.3L1585.0 1136.3L1586.0 1134.0L1587.0 1137.4L1588.0 1135.2L1589.0 1134.4L1590.0 1133.2L1591.0 1133.4L1592.0 1141.1L1593.0 1138.9L1594.0 1144.7L1595.0 1139.4L1596.0 1134.8L1597.0 1134.6L1598.0 1142.7L1599.0 1129.2L1600.0 1136.9L1601.0 1135.9L1602.0 1128.5L1603.0 1140.9L1604.0 1136.8L1605.0 1135.9L1606.0 1133.5L1607.0 1136.6L1608.0 1136.4L1609.0 1140.8L1610.0 1135.7L1611.0 1146.4L1612.0 1134.7L1613.0 1137.7L1614.0 1134.7L1615.0 1140.5L1616.0 1135.6L1617.0 1142.9L1618.0 1141.3L1619.0 1139.1L1620.0 1131.0L1621.0 1137.4L1622.0 1137.2L1623.0 1139.9L1624.0 1132.2L1625.0 1140.0L1626.0 1140.2L1627.0 1137.2L1628.0 1138.4L1629.0 1135.3L1630.0 1140.6L1631.0 1132.4L1632.0 1134.2L1633.0 1146.3L1634.0 1136.2L1635.0 1136.2L1636.0 1132.7L1637.0 1135.1L1638.0 1137.0L1639.0 1131.4L1640.0 1130.2L1641.0 1134.0L1642.0 1141.6L1643.0 1134.3L1644.0 1145.2L1645.0 1139.8L1646.0 1137.5L1647.0 1133.2L1648.0 1136.8L1649.0 1146.2L1650.0 1130.0L1651.0 1136.7L1652.0 1141.8L1653.0 1139.2L1654.0 1136.1L1655.0 1134.0L1656.0 1139.4L1657.0 1129.3L1658.0 1142.9L1659.0 1132.9L1660.0 1128.6L1661.0 1135.1L1662.0 1135.8L1663.0 1135.1L1664.0 1130.3L1665.0 1133.8L1666.0 1139.6L1667.0 1138.2L1668.0 1141.4L1669.0 1137.7L1670.0 1133.1L1671.0 1136.2L1672.0 1137.8L1673.0 1138.5L1674.0 1138.9L1675.0 1138.8L1676.0 1140.4L1677.0 1140.5L1678.0 1134.6L1679.0 1142.1L1680.0 1140.2L1681.0 1136.3L1682.0 1138.3L1683.0 1136.7L1684.0 1138.3L1685.0 1130.3L1686.0 1130.1L1687.0 1140.6L1688.0 1135.9L1689.0 1142.5L1690.0 1143.1L1691.0 1138.6L1692.0 1144.6L1693.0 1133.8L1694.0 1138.2L1695.0 1132.5L1696.0 1138.1L1697.0 1141.7L1698.0 1138.0L1699.0 1138.6L1700.0 1133.5L1701.0 1138.3L1702.0 1134.3L1703.0 1137.6L1704.0 1134.4L1705.0 1140.7L1706.0 1139.5L1707.0 1138.7L1708.0 1140.3L1709.0 1142.1L1710.0 1137.2L1711.0 1134.5L1712.0 1134.8L1713.0 1143.5L1714.0 1138.6L1715.0 1132.9L1716.0 1133.1L1717.0 1141.7L1718.0 1136.1L1719.0 1143.7L1720.0 1142.9L1721.0 1136.1L1722.0 1135.9L1723.0 1133.4L1724.0 1139.9L1725.0 1131.6L1726.0 1138.5L1727.0 1135.4L1728.0 1142.6L1729.0 1135.4L1730.0 1133.7L1731.0 1138.9L1732.0 1132.7L1733.0 1139.2L1734.0 1135.4L1735.0 1134.3L1736.0 1135.3L1737.0 1135.6L1738.0 1131.9L1739.0 1138.9L1740.0 1136.6L1741.0 1134.7L1742.0 1142.0L1743.0 1138.2L1744.0 1143.6L1745.0 1131.0L1746.0 1142.9L1747.0 1138.5L1748.0 1144.4L1749.0 1138.7L1750.0 1136.7L1751.0 1136.3L1752.0 1140.3L1753.0 1133.1L1754.0 1137.7L1755.0 1135.4L1756.0 1147.9L1757.0 1141.3L1758.0 1138.5L1759.0 1129.0L1760.0 1139.3L1761.0 1137.1L1762.0 1138.7L1763.0 1138.6L1764.0 1135.6L1765.0 1133.2L1766.0 1136.4L1767.0 1136.7L1768.0 1136.6L1769.0 1136.4L1770.0 1137.6L1771.0 1132.8L1772.0 1138.6L1773.0 1133.7L1774.0 1135.5L1775.0 1132.9L1776.0 1135.2L1777.0 1139.6L1778.0 1135.3L1779.0 1133.8L1780.0 1133.4L1781.0 1130.5"/>
<path stroke="#C00000" d="M141.6 1211.8L142.6 1205.5L143.6 1205.4L144.6 1207.7L145.6 1205.4L146.6 1203.6L147.6 1198.9L148.0 1196.1L148.6 1202.1L149.6 1199.8L150.6 1206.1L151.6 1204.9L152.6 1202.3L153.6 1207.3L154.6 1210.2L155.6 1209.2L156.0 1206.0L156.6 1210.1L157.6 1210.7L158.6 1212.6L159.6 1212.6L160.6 1205.8L161.6 1207.8L162.6 1212.9L163.6 1202.8L164.6 1214.0L165.6 1207.0L166.6 1209.0L167.6 1217.5L168.6 1210.9L169.6 1210.1L170.6 1212.8L171.6 1211.4L172.6 1209.3L173.0 1213.1L173.6 1221.4L174.6 1216.6L175.6 1215.0L176.6 1214.7L177.6 1217.4L178.6 1217.1L179.6 1211.2L180.6 1217.5L181.6 1216.0L182.6 1223.5L183.6 1215.7L184.6 1222.4L185.6 1212.6L186.6 1219.2L187.6 1215.5L188.6 1215.2L189.0 1222.2L189.6 1214.6L190.6 1217.3L191.6 1214.3L192.6 1218.1L193.6 1217.0L194.6 1206.3L195.6 1217.3L196.6 1211.2L197.6 1221.3L198.6 1215.7L199.6 1214.3L200.6 1204.5L201.6 1215.1L202.0 1210.2L202.6 1208.8L203.6 1217.3L204.6 1224.0L205.0 1217.8L205.6 1225.0L206.6 1221.5L207.6 1221.0L208.6 1221.4L209.6 1219.3L210.6 1224.0L211.6 1224.3L212.6 1227.9L213.6 1229.7L214.6 1222.4L215.6 1228.6L216.6 1219.1L217.6 1227.1L218.6 1219.8L219.6 1222.3L220.6 1227.3L221.6 1222.0L222.0 1227.1L222.6 1219.3L223.6 1222.8L224.6 1228.4L225.6 1232.8L226.6 1222.3L227.6 1234.0L228.6 1229.0L229.6 1237.7L230.6 1227.6L231.6 1227.2L232.6 1231.0L233.6 1225.7L234.6 1231.1L235.6 1230.7L236.6 1236.9L237.6 1233.3L238.0 1226.9L238.6 1226.5L239.6 1227.8L240.6 1223.1L241.6 1222.2L242.6 1240.2L243.6 1227.4L244.6 1236.3L245.6 1227.4L246.6 1228.7L247.6 1222.9L248.6 1235.5L249.6 1228.2L250.6 1236.8L251.6 1226.5L252.6 1234.8L253.6 1235.5L254.0 1222.6L254.6 1231.1L255.6 1224.9L256.6 1224.5L257.6 1230.2L258.6 1233.3L259.6 1235.8L260.6 1228.7L261.6 1234.6L262.6 1233.0L263.6 1230.7L264.6 1226.8L265.6 1231.2L266.6 1246.5L267.6 1227.4L268.6 1230.9L269.6 1228.0L270.6 1237.7L271.0 1239.6L271.6 1237.8L272.6 1240.9L273.6 1232.6L274.6 1240.4L275.6 1230.2L276.6 1240.6L277.6 1240.7L278.6 1232.2L279.6 1239.2L280.6 1231.0L281.6 1230.0L282.6 1230.5L283.6 1232.0L284.6 1232.2L285.6 1237.0L286.6 1245.1L287.0 1236.9L287.6 1234.4L288.6 1241.0L289.6 1237.2L290.6 1238.8L291.6 1240.2L292.6 1240.5L293.6 1235.7L294.6 1237.8L295.6 1243.1L296.6 1237.5L297.6 1238.2L298.6 1240.7L299.6 1241.3L300.6 1238.2L301.6 1242.2L302.6 1239.8L303.0 1234.2L303.6 1242.9L304.6 1236.5L305.6 1253.8L306.6 1242.0L307.6 1239.8L308.6 1244.9L309.6 1247.8L310.6 1248.3L311.6 1243.3L312.6 1246.8L313.6 1245.5L314.6 1243.1L315.6 1236.4L316.6 1243.3L317.6 1232.3L318.6 1239.8L319.6 1249.8L320.0 1244.7L320.6 1243.8L321.6 1240.3L322.6 1240.4L323.6 1241.2L324.6 1238.1L325.6 1234.2L326.6 1248.9L327.6 1251.8L328.6 1241.7L329.6 1248.0L330.6 1239.1L331.6 1246.2L332.6 1238.6L333.6 1248.8L334.6 1245.1L335.6 1239.3L336.0 1247.3L336.6 1252.3L337.6 1245.2L338.6 1245.1L339.6 1245.4L340.6 1246.1L341.6 1251.1L342.6 1251.4L343.6 1236.6L344.6 1251.3L345.6 1245.2L346.6 1253.6L347.6 1248.4L348.6 1250.7L349.6 1244.4L350.6 1241.0L351.6 1247.9L352.0 1251.1L352.6 1250.3L353.6 1250.7L354.6 1248.6L355.6 1251.0L356.6 1244.7L357.6 1247.9L358.6 1242.2L359.6 1248.9L360.6 1248.1L361.6 1249.9L362.6 1254.4L363.6 1250.5L364.6 1238.1L365.6 1256.7L366.6 1251.7L367.6 1254.7L368.6 1248.3L369.6 1255.5L370.6 1258.8L371.6 1245.6L372.6 1258.1L373.0 1248.9L373.6 1249.5L374.6 1252.5L375.6 1261.1L376.6 1244.2L377.6 1249.0L378.6 1251.6L379.6 1254.0L380.6 1250.4L381.6 1252.5L382.6 1245.9L383.6 1253.4L384.6 1254.3L385.6 1244.9L386.6 1245.9L387.6 1250.7L388.0 1250.3L388.6 1251.4L389.6 1244.2L390.6 1248.1L391.6 1248.0L392.6 1256.1L393.6 1250.3L394.6 1248.8L395.6 1247.4L396.6 1251.6L397.6 1257.0L398.6 1245.6L399.6 1253.0L400.6 1255.0L401.0 1261.4L401.6 1256.0L402.6 1259.2L403.6 1253.9L404.6 1248.1L405.6 1248.3L406.6 1251.6L407.6 1255.5L408.6 1254.1L409.6 1253.6L410.6 1263.6L411.6 1246.0L412.6 1252.0L413.6 1267.0L414.0 1258.2L414.6 1254.0L415.6 1251.8L416.6 1259.8L417.6 1259.2L418.6 1259.5L419.6 1250.2L420.6 1256.2L421.6 1254.5L422.6 1257.1L423.6 1248.0L424.6 1257.4L425.6 1261.3L426.6 1248.5L427.6 1258.0L428.6 1261.3L429.0 1257.8L429.6 1253.8L430.6 1254.7L431.6 1251.9L432.6 1255.3L433.6 1249.8L434.6 1254.8L435.6 1250.9L436.6 1248.4L437.6 1261.4L438.6 1246.8L439.0 1262.8L439.6 1245.5L440.6 1259.3L441.6 1256.2L442.6 1248.4L443.6 1253.4L444.6 1251.4L445.6 1251.8L446.6 1260.0L447.6 1251.1L448.6 1248.0L449.6 1261.3L450.6 1258.4L451.6 1256.8L452.6 1255.8L453.6 1259.7L454.6 1258.1L455.6 1255.8L456.6 1253.5L457.6 1260.4L458.6 1261.8L459.6 1257.3L460.6 1267.9L461.6 1255.8L462.6 1255.4L463.6 1260.8L464.6 1255.3L465.6 1255.0L466.6 1252.2L467.6 1255.2L468.6 1246.6L469.0 1250.2L469.6 1249.5L470.6 1246.2L471.6 1259.8L472.6 1255.3L473.6 1254.2L474.6 1260.1L475.6 1254.8L476.6 1264.0L477.0 1266.4L477.6 1255.3L478.6 1265.1L479.6 1261.0L480.6 1264.6L481.6 1260.4L482.6 1255.7L483.6 1252.2L484.6 1254.0L485.6 1256.3L486.6 1262.6L487.6 1260.5L488.6 1258.8L489.6 1263.4L490.6 1249.1L491.6 1251.6L492.6 1251.4L493.6 1256.2L494.6 1248.6L495.6 1252.9L496.6 1260.8L497.6 1259.0L498.6 1261.0L499.6 1251.7L500.0 1249.7L500.6 1255.3L501.6 1250.4L502.6 1254.1L503.6 1254.0L504.6 1257.1L505.6 1261.2L506.6 1261.1L507.6 1259.4L508.6 1254.6L509.6 1258.5L510.6 1254.2L511.6 1252.0L512.6 1249.6L513.6 1253.8L514.6 1258.7L515.6 1259.6L516.6 1257.0L517.6 1259.5L518.0 1254.6L518.6 1264.3L519.6 1257.7L520.6 1255.7L521.6 1260.0L522.6 1256.4L523.6 1258.6L524.6 1263.7L525.6 1253.5L526.6 1255.9L527.6 1256.4L528.6 1257.4L529.6 1265.6L530.6 1261.2L531.6 1262.9L532.6 1246.0L533.6 1259.4L534.0 1258.5L534.6 1259.7L535.6 1257.5L536.6 1254.5L537.6 1260.6L538.6 1256.7L539.6 1257.6L540.6 1255.1L541.6 1256.8L542.6 1260.1L543.6 1261.4L544.6 1257.7L545.6 1258.3L546.6 1257.1L547.6 1261.9L548.6 1256.3L549.6 1256.9L550.6 1258.7L551.0 1256.4L551.6 1259.3L552.6 1264.6L553.6 1257.4L554.6 1263.3L555.6 1260.7L556.6 1257.3L557.6 1259.1L558.6 1262.0L559.6 1252.1L560.6 1258.3L561.6 1260.2L562.6 1251.6L563.6 1260.0L564.6 1256.8L565.6 1250.4L566.6 1255.4L567.0 1247.4L567.6 1248.2L568.6 1247.1L569.6 1254.5L570.6 1251.9L571.6 1250.2L572.6 1251.3L573.6 1253.2L574.6 1252.2L575.6 1251.5L576.6 1254.5L577.6 1249.7L578.6 1251.5L579.6 1259.0L580.6 1255.5L581.6 1246.4L582.6 1260.7L583.0 1250.5L583.6 1261.1L584.6 1254.3L585.6 1257.8L586.6 1246.0L587.6 1250.0L588.6 1250.4L589.6 1250.5L590.6 1249.4L591.6 1249.8L592.6 1251.8L593.6 1249.5L594.6 1251.3L595.6 1253.1L596.6 1244.1L597.6 1250.4L598.6 1247.1L599.5 1250.6L600.6 1253.5L601.6 1245.0L602.6 1249.2L603.6 1254.7L604.6 1255.2L605.6 1248.4L606.6 1254.4L607.6 1251.8L608.6 1250.7L609.6 1248.3L610.6 1251.5L611.6 1253.2L612.6 1247.4L613.6 1252.1L614.6 1245.3L615.6 1245.1L616.0 1252.3L616.6 1248.9L617.6 1246.3L618.6 1250.8L619.6 1252.0L620.6 1249.1L621.6 1254.7L622.6 1245.5L623.6 1245.4L624.6 1251.7L625.6 1243.5L626.6 1250.3L627.6 1240.5L628.6 1242.8L629.6 1245.9L630.6 1244.7L631.6 1252.3L632.0 1242.1L632.6 1246.1L633.6 1247.1L634.6 1246.4L635.6 1251.7L636.6 1245.1L637.6 1245.6L638.6 1244.0L639.6 1251.9L640.6 1249.7L641.6 1250.0L642.6 1250.1L643.6 1245.0L644.6 1251.9L645.6 1251.3L646.6 1255.6L647.6 1252.3L648.5 1248.2L649.6 1248.8L650.6 1255.3L651.6 1243.4L652.6 1241.7L653.6 1246.5L654.6 1249.9L655.6 1243.8L656.6 1238.1L657.0 1250.2L657.6 1238.9L658.6 1244.4L659.6 1246.3L660.6 1240.8L661.6 1242.4L662.6 1245.6L663.6 1233.7L664.6 1241.8L665.6 1243.0L666.6 1242.9L667.6 1235.4L668.6 1238.6L669.6 1233.8L670.0 1233.5L670.6 1232.2L671.6 1239.0L672.6 1237.4L673.6 1241.8L674.6 1226.1L675.6 1233.0L676.6 1238.8L677.6 1245.4L678.6 1234.4L679.6 1229.7L680.6 1235.3L681.0 1237.8L681.6 1241.8L682.6 1243.2L683.6 1241.2L684.6 1237.3L685.6 1247.6L686.6 1234.2L687.6 1237.4L688.6 1240.1L689.6 1234.7L690.6 1235.9L691.6 1240.1L692.6 1232.4L693.6 1235.8L694.6 1235.9L695.6 1247.1L696.6 1240.2L697.5 1233.1L698.6 1239.4L699.6 1230.5L700.0 1237.3L700.6 1227.3L701.6 1238.0L702.6 1233.3L703.6 1227.3L704.6 1235.1L705.6 1236.6L706.6 1234.0L707.6 1232.5L708.6 1224.8L709.6 1234.5L710.6 1219.6L711.6 1226.9L712.6 1238.7L713.6 1221.9L714.0 1219.7L714.6 1224.0L715.6 1230.7L716.6 1228.7L717.6 1234.5L718.6 1229.9L719.6 1224.6L720.6 1234.9L721.6 1228.0L722.6 1233.7L723.6 1237.2L724.5 1233.6L725.6 1235.7L726.6 1223.5L727.6 1225.7L728.6 1226.8L729.6 1220.2L730.0 1229.5L730.6 1226.6L731.6 1221.7L732.6 1219.7L733.6 1215.8L734.0 1212.8L734.6 1208.8L735.6 1201.3L736.6 1194.1L737.0 1189.9L737.6 1186.0L738.6 1175.1L739.5 1168.9L740.6 1166.5L741.6 1164.0L742.6 1172.8L743.0 1180.6L743.6 1191.2L744.5 1205.1L745.6 1220.7L746.5 1232.6L747.6 1228.2L748.6 1223.4L749.0 1219.7L749.6 1225.9L750.6 1222.9L751.6 1220.0L752.6 1226.4L753.6 1220.0L754.6 1224.4L755.6 1212.3L756.6 1217.6L757.6 1225.8L758.6 1227.1L759.6 1228.8L760.6 1226.4L761.0 1228.1L761.6 1215.8L762.6 1211.6L763.6 1206.0L764.6 1217.2L765.6 1214.8L766.6 1222.5L767.6 1213.3L768.6 1221.5L769.6 1205.3L770.0 1221.1L770.6 1212.1L771.6 1219.0L772.6 1217.0L773.6 1208.7L774.6 1214.1L775.6 1209.9L776.6 1213.8L777.0 1212.9L777.6 1208.7L778.6 1200.8L779.6 1194.2L780.0 1192.5L780.6 1184.8L781.6 1192.0L782.6 1187.3L783.6 1186.4L784.0 1181.6L784.6 1187.9L785.6 1187.9L786.6 1198.3L787.6 1190.1L788.0 1201.1L788.6 1194.5L789.6 1200.6L790.6 1200.0L791.6 1198.8L792.6 1195.5L793.6 1209.2L794.6 1200.4L795.6 1207.4L796.6 1216.8L797.6 1218.6L798.0 1214.7L798.6 1206.6L799.6 1213.2L800.6 1214.2L801.6 1210.3L802.6 1221.4L803.6 1215.7L804.5 1216.3L805.6 1213.8L806.6 1206.9L807.6 1208.9L808.6 1208.5L809.6 1220.0L810.6 1213.5L811.6 1215.5L812.6 1215.1L813.6 1214.8L814.0 1221.5L814.6 1217.2L815.6 1214.4L816.6 1213.8L817.6 1221.0L818.6 1203.6L819.6 1220.7L820.6 1210.8L821.6 1216.4L822.6 1212.5L823.6 1214.2L824.6 1212.9L825.6 1194.8L826.6 1208.3L827.0 1210.0L827.6 1207.1L828.6 1204.0L829.6 1216.7L830.6 1208.2L831.6 1214.1L832.6 1219.8L833.6 1207.3L834.6 1212.0L835.6 1218.9L836.6 1210.9L837.6 1210.4L838.6 1200.8L839.0 1219.4L839.6 1210.9L840.6 1205.5L841.6 1216.7L842.6 1210.7L843.6 1212.6L844.0 1209.9L844.6 1217.1L845.6 1217.7L846.6 1213.1L847.6 1216.3L848.6 1224.6L849.6 1218.7L850.6 1216.7L851.6 1226.6L852.6 1217.5L853.0 1221.4L853.6 1215.3L854.6 1217.1L855.6 1218.8L856.6 1224.5L857.6 1227.5L858.6 1219.7L859.6 1226.4L860.6 1222.0L861.6 1226.5L862.6 1218.7L863.0 1224.5L863.6 1222.3L864.6 1223.9L865.6 1236.8L866.6 1225.1L867.6 1230.8L868.6 1228.8L869.6 1216.8L870.6 1225.9L871.0 1229.1L871.6 1217.6L872.6 1222.3L873.6 1243.2L874.6 1228.8L875.6 1227.5L876.6 1230.9L877.6 1228.0L878.6 1233.6L879.5 1235.2L880.6 1232.9L881.6 1240.9L882.6 1242.4L883.6 1239.7L884.6 1230.4L885.6 1231.8L886.6 1227.4L887.6 1237.0L888.6 1232.4L889.6 1232.1L890.6 1231.5L891.6 1236.3L892.6 1236.0L893.6 1229.7L894.6 1244.0L895.6 1237.5L896.6 1230.1L897.6 1242.0L898.6 1233.6L899.6 1248.0L900.6 1246.0L901.6 1242.4L902.6 1252.1L903.6 1235.9L904.6 1242.6L905.6 1240.1L906.6 1237.4L907.0 1235.5L907.6 1248.1L908.6 1241.3L909.6 1237.8L910.6 1240.2L911.6 1259.9L912.6 1243.6L913.6 1239.8L914.6 1242.6L915.6 1250.5L916.6 1243.7L917.6 1243.5L918.6 1244.3L919.6 1242.1L920.6 1243.8L921.6 1252.6L922.6 1244.5L923.6 1245.4L924.6 1231.2L925.0 1249.7L925.6 1252.8L926.6 1243.5L927.6 1250.0L928.6 1242.6L929.6 1250.4L930.6 1251.2L931.6 1238.5L932.6 1256.0L933.6 1257.8L934.6 1250.9L935.6 1246.6L936.6 1252.8L937.0 1252.3L937.6 1257.9L938.6 1252.9L939.6 1252.7L940.6 1258.7L941.6 1257.2L942.6 1254.3L943.6 1250.1L944.6 1249.8L945.6 1250.4L946.6 1249.8L947.6 1252.3L948.6 1261.0L949.6 1252.7L950.6 1253.3L951.6 1243.7L952.6 1260.4L953.6 1253.1L954.6 1258.5L955.0 1257.8L955.6 1252.0L956.6 1258.4L957.6 1248.4L958.6 1252.9L959.6 1264.6L960.6 1252.4L961.6 1259.8L962.6 1258.1L963.6 1254.5L964.6 1265.9L965.6 1258.4L966.0 1262.9L966.6 1269.6L967.6 1253.1L968.6 1260.6L969.6 1266.1L970.6 1261.9L971.6 1268.7L972.6 1266.8L973.6 1265.5L974.6 1267.4L975.6 1262.0L976.6 1259.1L977.5 1258.5L978.6 1268.6L979.6 1262.9L980.6 1274.1L981.6 1262.2L982.6 1259.5L983.6 1258.4L984.6 1275.6L985.6 1269.2L986.6 1271.9L987.6 1263.6L988.6 1276.7L989.6 1262.9L990.5 1269.8L991.6 1267.3L992.6 1273.5L993.6 1262.9L994.6 1265.6L995.6 1265.4L996.6 1265.9L997.0 1266.0L997.6 1269.5L998.6 1270.9L999.6 1265.6L1000.6 1266.7L1001.6 1268.6L1002.6 1270.0L1003.6 1268.1L1004.6 1271.5L1005.6 1270.7L1006.6 1273.5L1007.6 1267.3L1008.6 1271.5L1009.6 1268.4L1010.6 1263.3L1011.6 1268.6L1012.6 1272.8L1013.6 1270.1L1014.6 1268.3L1015.6 1276.0L1016.6 1278.7L1017.6 1276.6L1018.6 1277.0L1019.6 1268.4L1020.6 1276.9L1021.6 1282.1L1022.6 1280.9L1023.6 1275.9L1024.6 1280.9L1025.6 1275.0L1026.6 1275.0L1027.6 1278.7L1028.6 1278.9L1029.0 1274.5L1029.6 1276.4L1030.6 1281.8L1031.6 1275.2L1032.6 1278.1L1033.6 1278.9L1034.6 1281.8L1035.6 1277.2L1036.6 1278.9L1037.6 1282.9L1038.6 1275.7L1039.6 1275.1L1040.6 1271.9L1041.6 1281.1L1042.6 1276.0L1043.6 1275.8L1044.6 1270.7L1045.0 1276.3L1045.6 1274.2L1046.6 1277.1L1047.6 1277.2L1048.6 1278.9L1049.6 1285.5L1050.6 1274.6L1051.6 1278.9L1052.6 1277.2L1053.6 1278.4L1054.6 1280.5L1055.6 1283.6L1056.6 1280.7L1057.6 1281.3L1058.6 1283.3L1059.6 1281.4L1060.6 1279.3L1061.6 1281.2L1062.0 1281.8L1062.6 1275.0L1063.6 1284.5L1064.6 1282.2L1065.6 1284.5L1066.6 1282.6L1067.6 1276.7L1068.6 1279.1L1069.6 1281.8L1070.6 1277.0L1071.6 1286.9L1072.6 1277.2L1073.6 1288.8L1074.6 1283.4L1075.6 1284.5L1076.6 1277.6L1077.6 1281.3L1078.0 1281.0L1078.6 1287.9L1079.6 1290.1L1080.6 1289.2L1081.6 1272.2L1082.6 1282.0L1083.6 1276.6L1084.6 1281.1L1085.6 1279.5L1086.6 1274.5L1087.6 1276.2L1088.6 1283.2L1089.6 1279.9L1090.6 1277.8L1091.6 1280.5L1092.6 1275.7L1093.6 1282.1L1094.0 1278.2L1094.6 1283.7L1095.6 1271.5L1096.6 1280.5L1097.6 1277.3L1098.6 1273.4L1099.6 1274.8L1100.6 1278.7L1101.6 1280.6L1102.6 1276.4L1103.6 1277.2L1104.6 1275.8L1105.6 1275.5L1106.6 1284.9L1107.6 1280.0L1108.6 1283.1L1109.6 1275.3L1110.6 1278.3L1111.0 1276.1L1111.6 1280.8L1112.6 1277.9L1113.6 1283.4L1114.6 1278.0L1115.6 1276.0L1116.6 1273.8L1117.6 1275.5L1118.6 1281.0L1119.6 1276.2L1120.6 1278.7L1121.6 1281.6L1122.6 1283.6L1123.6 1274.6L1124.6 1278.0L1125.6 1274.3L1126.6 1280.0L1127.0 1279.2L1127.6 1280.2L1128.6 1274.6L1129.6 1277.9L1130.6 1273.1L1131.6 1282.3L1132.6 1278.0L1133.6 1277.5L1134.6 1281.3L1135.6 1282.9L1136.6 1278.3L1137.6 1280.6L1138.6 1281.7L1139.6 1279.5L1140.6 1277.2L1141.6 1278.2L1142.6 1283.9L1143.0 1281.9L1143.6 1276.6L1144.6 1279.0L1145.6 1283.5L1146.6 1280.8L1147.6 1277.6L1148.6 1276.0L1149.6 1281.3L1150.6 1287.1L1151.6 1279.8L1152.6 1277.0L1153.6 1276.8L1154.6 1284.1L1155.6 1272.4L1156.6 1278.1L1157.6 1279.6L1158.6 1277.5L1159.6 1287.7L1160.0 1280.6L1160.6 1280.5L1161.6 1284.1L1162.6 1280.1L1163.6 1274.0L1164.6 1281.6L1165.6 1279.0L1166.6 1278.8L1167.6 1286.0L1168.6 1278.1L1169.6 1281.7L1170.6 1281.8L1171.6 1283.1L1172.6 1290.1L1173.6 1279.0L1174.6 1282.4L1175.6 1287.0L1176.0 1283.0L1176.6 1280.1L1177.6 1280.9L1178.6 1287.1L1179.6 1277.7L1180.6 1289.2L1181.6 1289.6L1182.6 1282.9L1183.6 1283.9L1184.6 1284.2L1185.6 1281.1L1186.6 1283.7L1187.6 1274.1L1188.6 1275.7L1189.6 1278.5L1190.6 1279.2L1191.6 1283.8L1192.0 1282.6L1192.6 1285.0L1193.6 1282.0L1194.6 1282.1L1195.6 1283.9L1196.6 1279.0L1197.6 1278.8L1198.6 1279.9L1199.6 1276.9L1200.6 1280.3L1201.6 1281.5L1202.6 1278.4L1203.6 1279.2L1204.6 1280.3L1205.6 1286.7L1206.6 1287.5L1207.6 1279.8L1208.5 1286.7L1209.6 1282.1L1210.6 1278.2L1211.6 1280.5L1212.6 1278.4L1213.6 1277.8L1214.6 1275.1L1215.6 1280.1L1216.6 1273.5L1217.6 1276.3L1218.6 1280.1L1219.6 1284.1L1220.0 1277.1L1220.6 1278.1L1221.6 1280.7L1222.6 1277.7L1223.6 1283.4L1224.6 1270.6L1225.6 1280.4L1226.6 1276.3L1227.6 1280.3L1228.6 1284.8L1229.6 1280.5L1230.6 1279.1L1231.6 1281.3L1232.6 1279.6L1233.0 1281.7L1233.6 1279.9L1234.6 1278.7L1235.6 1276.4L1236.6 1283.6L1237.6 1280.3L1238.6 1276.7L1239.6 1277.0L1240.6 1281.9L1241.6 1278.4L1242.6 1282.4L1243.6 1285.9L1244.6 1293.9L1245.6 1283.3L1246.6 1288.0L1247.6 1276.2L1248.6 1279.7L1249.0 1282.9L1249.6 1283.9L1250.6 1276.4L1251.6 1286.1L1252.6 1284.3L1253.6 1283.6L1254.6 1284.0L1255.6 1280.3L1256.6 1286.0L1257.6 1283.0L1258.6 1280.9L1259.6 1284.3L1260.6 1278.3L1261.6 1280.7L1262.6 1280.7L1263.6 1283.1L1264.6 1281.0L1265.6 1283.0L1266.0 1277.4L1266.6 1277.7L1267.6 1283.6L1268.6 1281.6L1269.6 1278.8L1270.6 1282.3L1271.6 1282.3L1272.6 1284.5L1273.6 1282.2L1274.6 1277.8L1275.6 1280.5L1276.6 1283.8L1277.6 1281.9L1278.6 1277.4L1279.0 1283.8L1279.6 1277.1L1280.6 1279.3L1281.6 1273.8L1282.6 1280.8L1283.6 1281.9L1284.6 1280.3L1285.6 1281.3L1286.6 1279.1L1287.6 1283.8L1288.6 1280.3L1289.6 1284.6L1290.6 1284.4L1291.6 1283.4L1292.6 1284.6L1293.0 1284.7L1293.6 1283.2L1294.6 1278.5L1295.6 1289.9L1296.6 1292.4L1297.6 1285.4L1298.6 1281.8L1299.6 1285.6L1300.6 1279.9L1301.6 1287.1L1302.6 1291.1L1303.6 1287.1L1304.6 1287.4L1305.6 1278.4L1306.6 1284.5L1307.6 1281.1L1308.6 1292.2L1309.6 1285.8L1310.6 1285.2L1311.6 1288.4L1312.6 1290.5L1313.6 1289.1L1314.6 1284.2L1315.6 1288.4L1316.6 1289.2L1317.6 1286.2L1318.6 1290.1L1319.6 1284.9L1320.6 1289.8L1321.6 1292.1L1322.6 1289.7L1323.6 1284.9L1324.6 1290.1L1325.0 1291.6L1325.6 1291.1L1326.6 1285.0L1327.6 1288.3L1328.6 1288.8L1329.6 1300.1L1330.6 1291.2L1331.6 1287.7L1332.6 1293.0L1333.6 1287.8L1334.6 1288.6L1335.6 1294.8L1336.6 1293.5L1337.6 1289.9L1338.6 1285.8L1339.6 1277.4L1340.6 1289.1L1341.6 1285.1L1342.6 1292.7L1343.6 1293.0L1344.6 1283.8L1345.6 1283.7L1346.6 1287.0L1347.6 1289.0L1348.6 1292.1L1349.6 1283.5L1350.6 1280.4L1351.6 1287.1L1352.6 1286.3L1353.6 1287.7L1354.6 1293.6L1355.6 1286.1L1356.6 1292.0L1357.6 1287.3L1358.0 1289.9L1358.6 1291.4L1359.6 1287.7L1360.6 1281.9L1361.6 1284.2L1362.6 1287.3L1363.6 1282.2L1364.6 1282.8L1365.6 1285.9L1366.6 1284.0L1367.6 1290.7L1368.6 1290.6L1369.6 1278.1L1370.6 1290.1L1371.6 1285.0L1372.6 1287.1L1373.6 1293.2L1374.6 1288.4L1375.6 1286.9L1376.6 1284.7L1377.6 1288.5L1378.6 1290.2L1379.6 1291.2L1380.6 1286.2L1381.6 1295.6L1382.6 1287.7L1383.6 1295.1L1384.6 1288.6L1385.6 1294.7L1386.6 1294.5L1387.6 1285.2L1388.6 1287.7L1389.6 1287.6L1390.6 1291.1L1391.0 1284.9L1391.6 1283.9L1392.6 1300.0L1393.6 1291.3L1394.6 1293.0L1395.6 1289.4L1396.6 1290.0L1397.6 1291.6L1398.6 1289.9L1399.6 1287.9L1400.6 1287.7L1401.6 1294.3L1402.6 1286.2L1403.6 1291.5L1404.6 1289.3L1405.6 1288.1L1406.6 1292.2L1407.6 1287.3L1408.6 1280.8L1409.6 1292.3L1410.6 1289.7L1411.6 1290.5L1412.6 1293.3L1413.6 1288.7L1414.6 1294.0L1415.6 1288.1L1416.6 1297.6L1417.6 1284.4L1418.6 1288.9L1419.6 1287.9L1420.6 1284.1L1421.6 1285.1L1422.6 1288.9L1423.0 1282.2L1423.6 1288.8L1424.6 1291.8L1425.6 1284.7L1426.6 1286.0L1427.6 1283.6L1428.6 1287.5L1429.6 1288.7L1430.6 1286.3L1431.6 1286.8L1432.6 1290.3L1433.6 1291.2L1434.6 1285.4L1435.6 1288.1L1436.6 1287.5L1437.6 1284.2L1438.6 1290.2L1439.6 1292.1L1440.6 1291.6L1441.6 1287.5L1442.6 1295.1L1443.6 1294.2L1444.6 1288.5L1445.6 1290.1L1446.6 1294.8L1447.6 1289.7L1448.6 1296.0L1449.6 1297.6L1450.6 1291.7L1451.6 1292.3L1452.6 1292.4L1453.6 1297.4L1454.6 1295.8L1455.6 1288.8L1456.0 1287.6L1456.6 1290.3L1457.6 1291.4L1458.6 1288.9L1459.6 1296.0L1460.6 1293.0L1461.6 1296.2L1462.6 1296.6L1463.6 1289.2L1464.6 1300.5L1465.6 1298.9L1466.6 1291.9L1467.6 1289.4L1468.6 1289.6L1469.6 1294.7L1470.6 1290.6L1471.6 1293.9L1472.6 1299.6L1473.6 1292.4L1474.6 1291.4L1475.6 1294.3L1476.6 1293.9L1477.6 1288.7L1478.6 1285.8L1479.6 1291.9L1480.6 1291.0L1481.6 1290.7L1482.6 1292.8L1483.6 1294.4L1484.6 1289.4L1485.6 1295.5L1486.6 1289.4L1487.6 1292.0L1488.5 1293.5L1489.6 1295.5L1490.6 1297.5L1491.6 1294.4L1492.6 1292.5L1493.6 1294.3L1494.6 1294.3L1495.6 1290.3L1496.6 1292.8L1497.6 1291.5L1498.6 1293.8L1499.6 1286.3L1500.6 1287.3L1501.6 1284.3L1502.6 1295.8L1503.6 1291.2L1504.6 1292.7L1505.6 1285.3L1506.6 1294.8L1507.6 1293.7L1508.6 1297.9L1509.6 1298.6L1510.6 1294.3L1511.6 1293.3L1512.6 1294.1L1513.6 1292.4L1514.6 1291.7L1515.6 1292.8L1516.6 1293.6L1517.6 1289.9L1518.6 1291.6L1519.6 1299.8L1520.6 1290.8L1521.0 1291.2L1521.6 1294.5L1522.6 1289.5L1523.6 1291.6L1524.6 1287.6L1525.6 1292.9L1526.6 1289.8L1527.6 1285.6L1528.6 1295.0L1529.6 1296.4L1530.6 1292.9L1531.6 1300.9L1532.6 1287.5L1533.6 1288.2L1534.6 1294.5L1535.6 1297.8L1536.6 1293.8L1537.6 1292.8L1538.6 1290.5L1539.6 1301.6L1540.0 1292.5L1540.6 1297.2L1541.6 1295.6L1542.6 1289.3L1543.6 1298.0L1544.6 1292.2L1545.6 1296.3L1546.6 1296.8L1547.6 1294.0L1548.6 1301.4L1549.6 1300.2L1550.6 1294.5L1551.6 1298.0L1552.6 1299.7L1553.6 1301.8L1554.6 1293.7L1555.6 1302.8L1556.6 1291.4L1557.6 1290.2L1558.6 1297.4L1559.6 1291.1L1560.6 1301.5L1561.6 1287.5L1562.6 1294.8L1563.6 1297.3L1564.6 1288.4L1565.6 1298.8L1566.6 1289.2L1567.0 1296.1L1567.6 1295.7L1568.6 1295.8L1569.6 1298.2L1570.6 1298.2L1571.6 1292.0L1572.6 1291.6L1573.6 1295.6L1574.6 1289.0L1575.6 1300.5L1576.6 1294.8L1577.6 1304.5L1578.6 1297.8L1579.6 1293.4L1580.6 1291.9L1581.6 1300.8L1582.6 1283.6L1583.6 1294.3L1584.6 1304.2L1585.6 1295.9L1586.6 1298.8L1587.6 1296.3L1588.6 1298.5L1589.6 1293.3L1590.6 1296.9L1591.6 1301.4L1592.6 1296.7L1593.6 1297.3L1594.0 1301.5L1594.6 1300.9L1595.6 1297.7L1596.6 1293.9L1597.6 1292.8L1598.6 1297.8L1599.6 1297.2L1600.6 1303.7L1601.6 1309.3L1602.6 1303.5L1603.6 1295.3L1604.6 1296.2L1605.6 1291.2L1606.6 1298.4L1607.6 1298.4L1608.6 1301.0L1609.6 1293.8L1610.6 1298.6L1611.6 1297.5L1612.6 1301.3L1613.6 1292.1L1614.6 1302.6L1615.6 1297.7L1616.6 1297.4L1617.6 1293.0L1618.6 1296.9L1619.6 1298.8L1620.6 1296.7L1621.6 1298.4L1622.0 1293.3L1622.6 1297.7L1623.6 1294.3L1624.6 1290.8L1625.6 1292.7L1626.6 1296.9L1627.6 1299.5L1628.6 1298.5L1629.6 1303.5L1630.6 1299.7L1631.6 1298.7L1632.6 1296.6L1633.6 1300.7L1634.6 1298.4L1635.6 1291.7L1636.6 1298.6L1637.6 1298.8L1638.6 1298.5L1639.6 1309.5L1640.6 1301.6L1641.6 1302.5L1642.6 1301.8L1643.6 1297.7L1644.6 1300.5L1645.6 1300.6L1646.6 1300.8L1647.6 1297.0L1648.6 1301.1L1649.0 1298.6L1649.6 1295.3L1650.6 1295.9L1651.6 1298.2L1652.6 1299.4L1653.6 1294.7L1654.6 1293.6L1655.6 1295.7L1656.6 1297.4L1657.6 1305.2L1658.6 1301.2L1659.6 1290.8L1660.6 1297.3L1661.6 1299.8L1662.6 1303.2L1663.6 1298.8L1664.6 1305.9L1665.6 1296.5L1666.6 1307.0L1667.6 1297.8L1668.6 1298.8L1669.6 1300.5L1670.6 1297.0L1671.6 1294.9L1672.6 1300.6L1673.6 1299.8L1674.6 1304.9L1675.6 1302.2L1676.0 1296.6L1676.6 1301.0L1677.6 1295.8L1678.6 1292.7L1679.6 1297.9L1680.6 1296.5L1681.6 1296.1L1682.6 1302.3L1683.6 1298.4L1684.6 1295.1L1685.6 1296.7L1686.6 1299.5L1687.6 1290.7L1688.6 1300.3L1689.6 1299.4L1690.6 1300.3L1691.6 1303.5L1692.6 1303.4L1693.6 1296.8L1694.6 1302.7L1695.6 1299.3L1696.6 1294.1L1697.6 1298.5L1698.6 1298.0L1699.6 1300.4L1700.6 1295.6L1701.6 1295.5L1702.6 1299.8L1703.0 1295.9L1703.6 1296.9L1704.6 1296.1L1705.6 1300.0L1706.6 1299.5L1707.6 1297.1L1708.6 1288.1L1709.6 1301.4L1710.6 1295.4L1711.6 1299.4L1712.6 1297.0L1713.6 1292.1L1714.6 1300.9L1715.6 1297.0L1716.6 1298.7L1717.6 1299.5L1718.6 1307.7L1719.6 1297.3L1720.6 1298.0L1721.6 1296.7L1722.6 1298.1L1723.6 1300.3L1724.6 1298.3L1725.6 1300.0L1726.6 1299.3L1727.6 1299.0L1728.6 1298.8L1729.6 1308.7L1730.0 1296.6L1730.6 1299.7L1731.6 1296.1L1732.6 1302.2L1733.6 1302.2L1734.6 1299.3L1735.6 1296.2L1736.6 1302.6L1737.6 1304.6L1738.6 1294.0L1739.6 1297.1L1740.6 1299.5L1741.6 1299.9L1742.6 1300.2L1743.6 1302.7L1744.6 1299.1L1745.6 1300.1L1746.6 1302.8L1747.6 1299.3L1748.6 1305.9L1749.6 1301.2L1750.6 1304.5L1751.6 1302.0L1752.6 1303.9L1753.6 1301.4L1754.6 1301.9L1755.6 1303.0L1756.6 1299.8L1757.6 1307.3L1758.0 1299.1L1758.6 1306.1L1759.6 1300.5L1760.6 1305.1L1761.6 1303.7L1762.6 1306.5L1763.6 1312.7L1764.6 1311.2L1765.6 1300.7L1766.6 1302.5L1767.6 1299.5L1768.6 1303.0L1769.6 1297.7L1770.6 1303.8L1771.6 1297.0L1772.6 1307.9L1773.6 1301.0L1774.6 1297.8L1775.6 1300.4L1776.6 1302.7L1777.6 1298.1L1778.6 1308.3L1779.6 1303.8L1780.6 1300.3L1781.6 1297.7L1782.0 1303.1"/>
</g>
<g fill="#000">
<rect x="138" y="26" width="7" height="1362"/>
<rect x="1779" y="26" width="7" height="1362"/>
<rect x="140" y="25" width="1644" height="8"/>
<rect x="138" y="1380" width="1648" height="8"/>
<rect x="138.0" y="1386" width="7" height="18"/>
<rect x="466.2" y="1386" width="7" height="18"/>
<rect x="794.4" y="1386" width="7" height="18"/>
<rect x="1122.6" y="1386" width="7" height="18"/>
<rect x="1450.8" y="1386" width="7" height="18"/>
<rect x="1779.0" y="1386" width="7" height="18"/>
<rect x="301.9" y="1386" width="7.5" height="13"/>
<rect x="630.0" y="1386" width="7.5" height="13"/>
<rect x="958.2" y="1386" width="7.5" height="13"/>
<rect x="1286.5" y="1386" width="7.5" height="13"/>
<rect x="1614.6" y="1386" width="7.5" height="13"/>
</g>
<g fill="#000" shape-rendering="crispEdges">
<polygon points="352.0,433.0 335.0,466.0 369.0,466.0"/>
<circle cx="501" cy="449.4" r="16.8"/>
<circle cx="688" cy="94" r="16.7"/>
<polygon points="904.0,469.0 887.0,502.0 921.0,502.0"/>
<polygon points="973.0,472.0 956.0,505.0 990.0,505.0"/>
<polygon points="1160.0,479.0 1143.0,512.0 1177.0,512.0"/>
<rect x="596" y="648" width="28" height="28"/>
<polygon points="651.0,650.0 668.0,667.0 651.0,684.0 634.0,667.0"/>
<polygon points="968.0,1014.0 1008.0,1014.0 988.0,1053.0"/>
<circle cx="1052" cy="103.5" r="16.8"/>
<polygon points="1383.5,79.0 1364.8,117.0 1402.2,117.0"/>
<polygon points="1036.9,168.0 1069.1,168.0 1053.0,201.0"/>
<rect x="1369" y="169" width="28" height="28"/>
<polygon points="1055.0,246.8 1072.2,264.0 1055.0,281.2 1037.8,264.0"/>
</g>
<g font-family="Liberation Sans, Arial, sans-serif" fill="#000">
<text transform="matrix(0.9567 0 0 1.0246 106.12 1484.80)" font-size="67" font-weight="normal">10</text>
<text transform="matrix(1.0211 0 0 1.0246 430.58 1484.80)" font-size="67" font-weight="normal">20</text>
<text transform="matrix(0.9799 0 0 1.0246 761.45 1484.80)" font-size="67" font-weight="normal">30</text>
<text transform="matrix(0.9957 0 0 1.0246 1088.41 1484.80)" font-size="67" font-weight="normal">40</text>
<text transform="matrix(0.9848 0 0 1.0246 1418.19 1484.80)" font-size="67" font-weight="normal">50</text>
<text transform="matrix(0.9927 0 0 1.0246 1745.43 1484.80)" font-size="67" font-weight="normal">60</text>
<text transform="matrix(0.9939 0 0 0.9886 776.32 1588.80)" font-size="72.5" font-weight="bold">2-Theta (Deg)</text>
<text transform="matrix(0 -0.9959 0.9763 0 80.16 965.73)" font-size="72.5" font-weight="bold">Intensity (a.u.)</text>
<text transform="matrix(0.9889 0 0 0.9789 1095.58 121.00)" font-size="52.5" font-weight="bold">Quartz</text>
<text transform="matrix(0.9760 0 0 0.9789 1424.38 116.00)" font-size="52.5" font-weight="bold">Hematite</text>
<text transform="matrix(0.9739 0 0 0.9789 1100.59 203.10)" font-size="52.5" font-weight="bold">Mullite</text>
<text transform="matrix(0.9620 0 0 0.9789 1432.73 204.90)" font-size="52.5" font-weight="bold">Dreyerite</text>
<text transform="matrix(0.9689 0 0 0.9789 1101.79 282.00)" font-size="52.5" font-weight="bold">Anatase</text>
<text transform="matrix(0.9624 0 0 1.0230 1650.91 615.00)" font-size="64" font-weight="bold">FA</text>
<text transform="matrix(0.9735 0 0 1.0230 1639.86 883.00)" font-size="64" font-weight="bold">MK</text>
<text transform="matrix(0.9574 0 0 1.0230 1649.99 1113.00)" font-size="64" font-weight="bold">SF</text>
<text transform="matrix(0.9632 0 0 1.0230 1574.95 1273.00)" font-size="64" font-weight="bold">GGBS</text>
</g>
</svg>
</body></html>
